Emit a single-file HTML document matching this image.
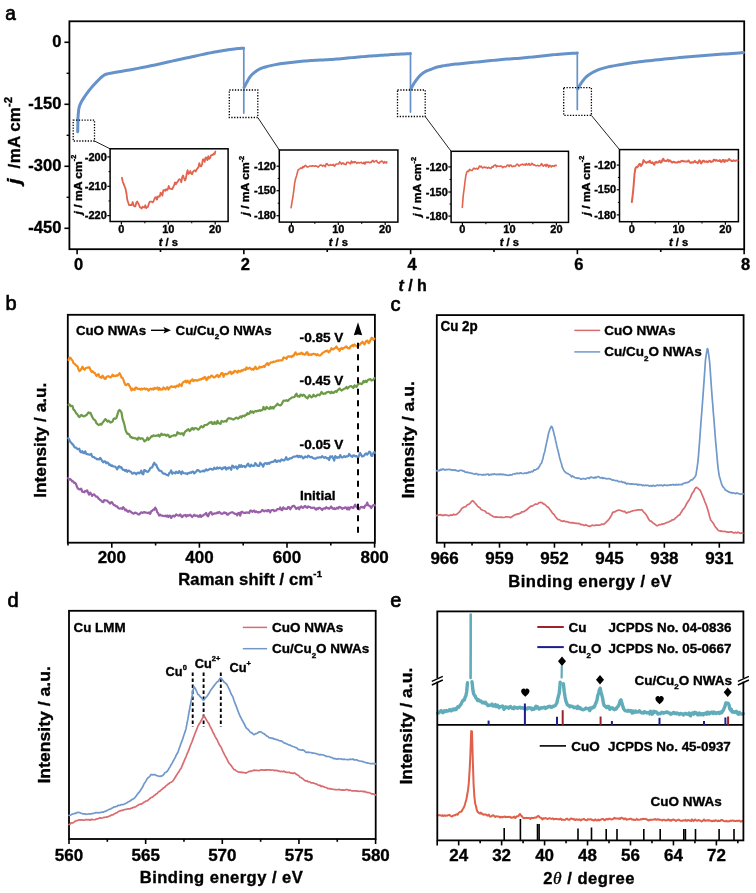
<!DOCTYPE html>
<html><head><meta charset="utf-8"><style>
html,body{margin:0;padding:0;background:#fff;}
svg{display:block;filter:blur(0.35px);}
text{font-family:'Liberation Sans', sans-serif;stroke:#000;stroke-width:0.35px;}
</style></head><body>
<svg width="756" height="893" viewBox="0 0 756 893">
<rect width="756" height="893" fill="#fff"/>
<text transform="translate(5.2 19.7) scale(1.0000 1.0500)" font-size="19" font-weight="normal" style="stroke-width:0.7px" fill="#000">a</text>
<rect x="69.4" y="21.3" width="674.8" height="227.9" fill="none" stroke="#000" stroke-width="1.8"/>
<line x1="64.4" y1="42.3" x2="69.4" y2="42.3" stroke="#000" stroke-width="1.6" stroke-linecap="butt"/>
<text transform="translate(61.4 46.8)" font-size="16.5" font-weight="bold" text-anchor="end" fill="#000">0</text>
<line x1="64.4" y1="104.3" x2="69.4" y2="104.3" stroke="#000" stroke-width="1.6" stroke-linecap="butt"/>
<text transform="translate(61.4 108.8)" font-size="16.5" font-weight="bold" text-anchor="end" fill="#000">-150</text>
<line x1="64.4" y1="166.3" x2="69.4" y2="166.3" stroke="#000" stroke-width="1.6" stroke-linecap="butt"/>
<text transform="translate(61.4 170.8)" font-size="16.5" font-weight="bold" text-anchor="end" fill="#000">-300</text>
<line x1="64.4" y1="228.3" x2="69.4" y2="228.3" stroke="#000" stroke-width="1.6" stroke-linecap="butt"/>
<text transform="translate(61.4 232.8)" font-size="16.5" font-weight="bold" text-anchor="end" fill="#000">-450</text>
<line x1="66.6" y1="73.3" x2="69.4" y2="73.3" stroke="#000" stroke-width="1.4" stroke-linecap="butt"/>
<line x1="66.6" y1="135.3" x2="69.4" y2="135.3" stroke="#000" stroke-width="1.4" stroke-linecap="butt"/>
<line x1="66.6" y1="197.3" x2="69.4" y2="197.3" stroke="#000" stroke-width="1.4" stroke-linecap="butt"/>
<line x1="77.1" y1="249.2" x2="77.1" y2="254.2" stroke="#000" stroke-width="1.6" stroke-linecap="butt"/>
<line x1="160.48" y1="249.2" x2="160.48" y2="252" stroke="#000" stroke-width="1.6" stroke-linecap="butt"/>
<line x1="243.86" y1="249.2" x2="243.86" y2="254.2" stroke="#000" stroke-width="1.6" stroke-linecap="butt"/>
<line x1="327.24" y1="249.2" x2="327.24" y2="252" stroke="#000" stroke-width="1.6" stroke-linecap="butt"/>
<line x1="410.62" y1="249.2" x2="410.62" y2="254.2" stroke="#000" stroke-width="1.6" stroke-linecap="butt"/>
<line x1="494" y1="249.2" x2="494" y2="252" stroke="#000" stroke-width="1.6" stroke-linecap="butt"/>
<line x1="577.38" y1="249.2" x2="577.38" y2="254.2" stroke="#000" stroke-width="1.6" stroke-linecap="butt"/>
<line x1="660.76" y1="249.2" x2="660.76" y2="252" stroke="#000" stroke-width="1.6" stroke-linecap="butt"/>
<line x1="744.14" y1="249.2" x2="744.14" y2="254.2" stroke="#000" stroke-width="1.6" stroke-linecap="butt"/>
<text transform="translate(78.5 269.6) scale(1.0000 1.0400)" font-size="16.5" font-weight="bold" text-anchor="middle" fill="#000">0</text>
<text transform="translate(245.26 269.6) scale(1.0000 1.0400)" font-size="16.5" font-weight="bold" text-anchor="middle" fill="#000">2</text>
<text transform="translate(412.02 269.6) scale(1.0000 1.0400)" font-size="16.5" font-weight="bold" text-anchor="middle" fill="#000">4</text>
<text transform="translate(578.78 269.6) scale(1.0000 1.0400)" font-size="16.5" font-weight="bold" text-anchor="middle" fill="#000">6</text>
<text transform="translate(745.54 269.6) scale(1.0000 1.0400)" font-size="16.5" font-weight="bold" text-anchor="middle" fill="#000">8</text>
<text transform="translate(412.6 290.6)" font-size="16" font-weight="bold" text-anchor="middle" fill="#000"><tspan font-style="italic">t</tspan> / h</text>
<text transform="translate(20.4 168.6) rotate(-90) scale(1.0400 1.0000)" font-size="16.4" font-weight="bold" fill="#000">/<tspan font-size="2"> </tspan>mA cm<tspan font-size="11" dy="-8.5">-2</tspan></text>
<text transform="translate(20.4 184.3) rotate(-90) scale(1.1500 1.0000)" font-size="18.5" font-weight="bold" font-style="italic" fill="#000">j</text>
<polyline points="77.7,131.7 77.72,130.6 77.75,129.04 77.79,127.21 77.83,125.3 77.86,123.5 77.9,122 77.92,120.86 77.92,119.94 77.92,119.12 77.94,118.31 78,117.37 78.1,116.2 78.22,114.75 78.35,113.11 78.51,111.35 78.74,109.54 79.06,107.77 79.5,106.1 80.08,104.54 80.76,103.04 81.54,101.56 82.4,100.1 83.33,98.62 84.3,97.1 85.35,95.52 86.49,93.9 87.7,92.27 88.94,90.65 90.18,89.08 91.4,87.6 92.62,86.17 93.89,84.77 95.15,83.42 96.38,82.14 97.54,80.96 98.6,79.9 99.52,78.97 100.33,78.16 101.07,77.45 101.79,76.81 102.52,76.24 103.3,75.7 104,75.24 104.55,74.88 105.12,74.58 105.86,74.29 106.93,73.98 108.5,73.6 110.58,73.17 113.05,72.73 115.86,72.27 118.94,71.77 122.24,71.21 125.7,70.6 129.43,69.91 133.48,69.16 137.76,68.36 142.14,67.52 146.53,66.66 150.8,65.8 155.06,64.91 159.4,63.97 163.74,63.01 168,62.06 172.08,61.14 175.9,60.3 179.46,59.52 182.84,58.79 186.04,58.09 189.08,57.43 191.96,56.8 194.7,56.2 197.22,55.64 199.51,55.13 201.65,54.64 203.71,54.19 205.76,53.74 207.9,53.3 210.1,52.87 212.3,52.45 214.49,52.04 216.69,51.65 218.89,51.27 221.1,50.9 223.36,50.53 225.68,50.16 228,49.79 230.27,49.46 232.42,49.15 234.4,48.9 236.28,48.7 238.11,48.54 239.83,48.43 241.37,48.33 242.65,48.26 243.6,48.2" fill="none" stroke="#6592c9" stroke-width="3.0" stroke-linejoin="round" stroke-linecap="round"/>
<polyline points="244.2,87.3 244.53,86.66 244.97,85.77 245.51,84.73 246.09,83.59 246.7,82.46 247.3,81.4 247.87,80.4 248.44,79.38 249.03,78.36 249.67,77.35 250.38,76.36 251.2,75.4 252.14,74.45 253.2,73.49 254.32,72.56 255.49,71.66 256.66,70.84 257.8,70.1 258.84,69.48 259.79,68.96 260.74,68.51 261.78,68.09 263.01,67.66 264.5,67.2 266.32,66.69 268.42,66.16 270.69,65.63 273.06,65.11 275.42,64.63 277.7,64.2 279.9,63.84 282.1,63.53 284.3,63.25 286.5,63 288.7,62.75 290.9,62.5 293.1,62.24 295.3,61.99 297.49,61.75 299.69,61.52 301.89,61.3 304.1,61.1 306.32,60.92 308.55,60.75 310.79,60.6 313.01,60.46 315.22,60.33 317.4,60.2 319.53,60.09 321.63,60 323.71,59.91 325.78,59.83 327.87,59.73 330,59.6 332.16,59.45 334.35,59.28 336.56,59.09 338.77,58.9 340.99,58.7 343.2,58.5 345.41,58.29 347.63,58.07 349.85,57.85 352.07,57.63 354.29,57.41 356.5,57.2 358.71,57 360.91,56.81 363.11,56.62 365.3,56.44 367.5,56.27 369.7,56.1 371.9,55.94 374.1,55.79 376.3,55.64 378.5,55.49 380.7,55.35 382.9,55.2 385.09,55.05 387.26,54.89 389.43,54.74 391.62,54.59 393.84,54.44 396.1,54.3 398.59,54.16 401.31,54.03 404.08,53.89 406.65,53.77 408.83,53.67 410.4,53.6" fill="none" stroke="#6592c9" stroke-width="3.0" stroke-linejoin="round" stroke-linecap="round"/>
<polyline points="410.8,88.9 411.21,88.18 411.76,87.19 412.43,86.01 413.16,84.74 413.93,83.48 414.7,82.3 415.49,81.17 416.33,80 417.21,78.84 418.11,77.71 419.01,76.65 419.9,75.7 420.76,74.87 421.62,74.12 422.47,73.45 423.35,72.83 424.25,72.26 425.2,71.7 426.2,71.18 427.24,70.72 428.32,70.29 429.41,69.89 430.51,69.5 431.6,69.1 432.61,68.7 433.54,68.31 434.47,67.92 435.5,67.55 436.71,67.17 438.2,66.8 440.03,66.42 442.14,66.03 444.44,65.64 446.83,65.26 449.21,64.91 451.5,64.6 453.71,64.33 455.91,64.1 458.11,63.9 460.3,63.71 462.5,63.51 464.7,63.3 466.9,63.07 469.1,62.84 471.3,62.6 473.5,62.36 475.7,62.13 477.9,61.9 480.1,61.68 482.3,61.46 484.49,61.24 486.69,61.03 488.89,60.82 491.1,60.6 493.28,60.38 495.44,60.16 497.6,59.94 499.79,59.72 502.05,59.51 504.4,59.3 506.89,59.11 509.52,58.93 512.21,58.75 514.89,58.57 517.51,58.39 520,58.2 522.34,58 524.57,57.79 526.74,57.57 528.88,57.35 531.02,57.12 533.2,56.9 535.41,56.67 537.63,56.44 539.85,56.2 542.07,55.96 544.29,55.73 546.5,55.5 548.65,55.28 550.74,55.06 552.83,54.84 554.98,54.62 557.25,54.41 559.7,54.2 562.58,53.98 565.89,53.75 569.33,53.52 572.57,53.31 575.33,53.13 577.3,53" fill="none" stroke="#6592c9" stroke-width="3.0" stroke-linejoin="round" stroke-linecap="round"/>
<polyline points="577.8,88.9 578.1,88.35 578.49,87.61 578.97,86.72 579.52,85.74 580.13,84.71 580.8,83.7 581.53,82.65 582.34,81.5 583.22,80.31 584.14,79.13 585.11,78.01 586.1,77 587.14,76.09 588.23,75.25 589.37,74.47 590.52,73.74 591.67,73.05 592.8,72.4 593.86,71.81 594.86,71.28 595.86,70.79 596.91,70.33 598.07,69.88 599.4,69.4 600.94,68.9 602.66,68.38 604.49,67.87 606.36,67.37 608.22,66.91 610,66.5 611.66,66.15 613.25,65.86 614.82,65.61 616.43,65.36 618.14,65.1 620,64.8 621.99,64.46 624.06,64.1 626.22,63.73 628.5,63.35 630.92,62.97 633.5,62.6 636.29,62.23 639.29,61.86 642.43,61.48 645.64,61.11 648.85,60.75 652,60.4 655.1,60.06 658.2,59.74 661.31,59.42 664.41,59.11 667.51,58.81 670.6,58.5 673.68,58.19 676.74,57.88 679.8,57.58 682.86,57.27 685.92,56.98 689,56.7 692.09,56.43 695.19,56.17 698.29,55.92 701.4,55.67 704.5,55.43 707.6,55.2 710.7,54.97 713.82,54.75 716.93,54.54 720.03,54.33 723.09,54.11 726.1,53.9 729.25,53.67 732.6,53.42 735.91,53.17 738.96,52.94 741.53,52.74 743.4,52.6" fill="none" stroke="#6592c9" stroke-width="3.0" stroke-linejoin="round" stroke-linecap="round"/>
<line x1="243.8" y1="48.2" x2="243.8" y2="113.1" stroke="#6592c9" stroke-width="1.7" stroke-linecap="round"/>
<line x1="410.5" y1="53.6" x2="410.5" y2="112.1" stroke="#6592c9" stroke-width="1.7" stroke-linecap="round"/>
<line x1="577.3" y1="53" x2="577.3" y2="109.4" stroke="#6592c9" stroke-width="1.7" stroke-linecap="round"/>
<rect x="73.2" y="120.2" width="21.3" height="20.8" fill="none" stroke="#000" stroke-width="1.3" stroke-dasharray="1.3 1.5"/>
<line x1="94.5" y1="141" x2="110.1" y2="148.8" stroke="#222" stroke-width="1.0" stroke-linecap="butt"/>
<rect x="229.3" y="90" width="28.5" height="27.5" fill="none" stroke="#000" stroke-width="1.3" stroke-dasharray="1.3 1.5"/>
<line x1="257.8" y1="117.5" x2="279.3" y2="150" stroke="#222" stroke-width="1.0" stroke-linecap="butt"/>
<rect x="397.5" y="90" width="27.7" height="26.5" fill="none" stroke="#000" stroke-width="1.3" stroke-dasharray="1.3 1.5"/>
<line x1="425.2" y1="116.5" x2="451.1" y2="151.3" stroke="#222" stroke-width="1.0" stroke-linecap="butt"/>
<rect x="563.7" y="87.6" width="27.7" height="27.8" fill="none" stroke="#000" stroke-width="1.3" stroke-dasharray="1.3 1.5"/>
<line x1="591.4" y1="115.4" x2="619.5" y2="149.6" stroke="#222" stroke-width="1.0" stroke-linecap="butt"/>
<rect x="110.1" y="148.8" width="118" height="72.7" fill="#fff"/>
<rect x="110.1" y="148.8" width="118" height="72.7" fill="none" stroke="#000" stroke-width="1.5"/>
<line x1="121.4" y1="221.5" x2="121.4" y2="224.5" stroke="#000" stroke-width="1.2" stroke-linecap="butt"/>
<text transform="translate(121.4 232.6)" font-size="11" font-weight="bold" text-anchor="middle" fill="#000">0</text>
<line x1="168.3" y1="221.5" x2="168.3" y2="224.5" stroke="#000" stroke-width="1.2" stroke-linecap="butt"/>
<text transform="translate(168.3 232.6)" font-size="11" font-weight="bold" text-anchor="middle" fill="#000">10</text>
<line x1="215.2" y1="221.5" x2="215.2" y2="224.5" stroke="#000" stroke-width="1.2" stroke-linecap="butt"/>
<text transform="translate(215.2 232.6)" font-size="11" font-weight="bold" text-anchor="middle" fill="#000">20</text>
<line x1="144.85" y1="221.5" x2="144.85" y2="223.3" stroke="#000" stroke-width="1.0" stroke-linecap="butt"/>
<line x1="191.75" y1="221.5" x2="191.75" y2="223.3" stroke="#000" stroke-width="1.0" stroke-linecap="butt"/>
<line x1="107.3" y1="156.9" x2="110.1" y2="156.9" stroke="#000" stroke-width="1.2" stroke-linecap="butt"/>
<text transform="translate(106.8 160.5) scale(1.0000 0.9700)" font-size="11" font-weight="bold" text-anchor="end" fill="#000">-200</text>
<line x1="107.3" y1="186.3" x2="110.1" y2="186.3" stroke="#000" stroke-width="1.2" stroke-linecap="butt"/>
<text transform="translate(106.8 189.9) scale(1.0000 0.9700)" font-size="11" font-weight="bold" text-anchor="end" fill="#000">-210</text>
<line x1="107.3" y1="215.6" x2="110.1" y2="215.6" stroke="#000" stroke-width="1.2" stroke-linecap="butt"/>
<text transform="translate(106.8 219.2) scale(1.0000 0.9700)" font-size="11" font-weight="bold" text-anchor="end" fill="#000">-220</text>
<line x1="108.5" y1="171.6" x2="110.1" y2="171.6" stroke="#000" stroke-width="1.0" stroke-linecap="butt"/>
<line x1="108.5" y1="200.95" x2="110.1" y2="200.95" stroke="#000" stroke-width="1.0" stroke-linecap="butt"/>
<text transform="translate(168.3 245.6)" font-size="11.2" font-weight="bold" text-anchor="middle" fill="#000"><tspan font-style="italic">t</tspan> / s</text>
<text transform="translate(81.5 184.6) rotate(-90) scale(1.1200 1.0000)" font-size="10.8" font-weight="bold" text-anchor="middle" fill="#000"><tspan font-style="italic">j</tspan> / mA cm<tspan font-size="6.5" dy="-5.5">-2</tspan></text>
<polyline points="121.9,177.77 122.8,181.8 123.7,183.92 124.6,186.38 125.5,188.56 126.4,193.23 127.3,199.86 128.2,202.5 129.1,205.17 130,204.92 130.9,205.12 131.8,205.1 132.7,202.01 133.6,205.34 134.5,206.38 135.4,206.29 136.3,202.71 137.2,201.49 138.1,203.17 139,204.91 139.9,207.29 140.8,207.67 141.7,208.49 142.6,206.64 143.5,207.23 144.4,207.51 145.3,205.28 146.2,208.17 147.1,207.05 148,206.86 148.9,203.55 149.8,201.65 150.7,201.62 151.6,201.62 152.5,202.37 153.4,201.5 154.3,199.41 155.2,197.43 156.1,197.16 157,199.65 157.9,196.5 158.8,196.34 159.7,196.53 160.6,192.64 161.5,193.37 162.4,195.68 163.3,190.05 164.2,190.22 165.1,190.88 166,189.09 166.9,190.21 167.8,189.36 168.7,185.99 169.6,188.43 170.5,188.91 171.4,188.7 172.3,189.13 173.2,187.03 174.1,185.41 175,182.31 175.9,184.17 176.8,182.67 177.7,181.66 178.6,179.81 179.5,179.26 180.4,179.59 181.3,182.34 182.2,177.15 183.1,175.5 184,178.05 184.9,180.42 185.8,178.95 186.7,173.5 187.6,170.23 188.5,173.99 189.4,173.08 190.3,171.01 191.2,173.56 192.1,174.23 193,171.91 193.9,170.71 194.8,170.29 195.7,171.58 196.6,169.82 197.5,168.29 198.4,167.5 199.3,163.14 200.2,165.95 201.1,166.32 202,164.62 202.9,159.33 203.8,159.34 204.7,161.87 205.6,157.45 206.5,157.86 207.4,160.09 208.3,156.06 209.2,158.86 210.1,158.01 211,155.4 211.9,155.01 212.8,155.06 213.7,153.57 214.6,154.22 215.4,151.5" fill="none" stroke="#e2644e" stroke-width="1.8" stroke-linejoin="round" stroke-linecap="round"/>
<rect x="279.3" y="150" width="118.6" height="72.1" fill="#fff"/>
<rect x="279.3" y="150" width="118.6" height="72.1" fill="none" stroke="#000" stroke-width="1.5"/>
<line x1="291.4" y1="222.1" x2="291.4" y2="225.1" stroke="#000" stroke-width="1.2" stroke-linecap="butt"/>
<text transform="translate(291.4 232.6)" font-size="11" font-weight="bold" text-anchor="middle" fill="#000">0</text>
<line x1="338.3" y1="222.1" x2="338.3" y2="225.1" stroke="#000" stroke-width="1.2" stroke-linecap="butt"/>
<text transform="translate(338.3 232.6)" font-size="11" font-weight="bold" text-anchor="middle" fill="#000">10</text>
<line x1="385.2" y1="222.1" x2="385.2" y2="225.1" stroke="#000" stroke-width="1.2" stroke-linecap="butt"/>
<text transform="translate(385.2 232.6)" font-size="11" font-weight="bold" text-anchor="middle" fill="#000">20</text>
<line x1="314.85" y1="222.1" x2="314.85" y2="223.9" stroke="#000" stroke-width="1.0" stroke-linecap="butt"/>
<line x1="361.75" y1="222.1" x2="361.75" y2="223.9" stroke="#000" stroke-width="1.0" stroke-linecap="butt"/>
<line x1="276.5" y1="166.2" x2="279.3" y2="166.2" stroke="#000" stroke-width="1.2" stroke-linecap="butt"/>
<text transform="translate(276 169.8) scale(1.0000 0.9700)" font-size="11" font-weight="bold" text-anchor="end" fill="#000">-120</text>
<line x1="276.5" y1="190.7" x2="279.3" y2="190.7" stroke="#000" stroke-width="1.2" stroke-linecap="butt"/>
<text transform="translate(276 194.3) scale(1.0000 0.9700)" font-size="11" font-weight="bold" text-anchor="end" fill="#000">-150</text>
<line x1="276.5" y1="215.7" x2="279.3" y2="215.7" stroke="#000" stroke-width="1.2" stroke-linecap="butt"/>
<text transform="translate(276 219.3) scale(1.0000 0.9700)" font-size="11" font-weight="bold" text-anchor="end" fill="#000">-180</text>
<line x1="277.7" y1="178.45" x2="279.3" y2="178.45" stroke="#000" stroke-width="1.0" stroke-linecap="butt"/>
<line x1="277.7" y1="203.2" x2="279.3" y2="203.2" stroke="#000" stroke-width="1.0" stroke-linecap="butt"/>
<text transform="translate(338.3 245.6)" font-size="11.2" font-weight="bold" text-anchor="middle" fill="#000"><tspan font-style="italic">t</tspan> / s</text>
<text transform="translate(249.3 185.7) rotate(-90) scale(1.1200 1.0000)" font-size="10.8" font-weight="bold" text-anchor="middle" fill="#000"><tspan font-style="italic">j</tspan> / mA cm<tspan font-size="6.5" dy="-5.5">-2</tspan></text>
<polyline points="291.1,207.8 292,201.82 292.9,196.99 293.8,190.47 294.7,182.9 295.6,178.76 296.5,176.04 297.4,172.33 298.3,169.59 299.2,169.16 300.1,168.6 301,167.8 301.9,168.49 302.8,166.68 303.7,167.41 304.6,165.84 305.5,165.32 306.4,166.36 307.3,167 308.2,166.86 309.1,166.36 310,166.05 310.9,165.99 311.8,166.29 312.7,165.82 313.6,165.94 314.5,166.24 315.4,165.85 316.3,166.23 317.2,166.23 318.1,167.23 319,166.3 319.9,165.26 320.8,165.07 321.7,165.32 322.6,166.08 323.5,165.34 324.4,165.51 325.3,166.74 326.2,163.77 327.1,163.64 328,164.99 328.9,165.4 329.8,165.25 330.7,164.64 331.6,165.19 332.5,165.12 333.4,164.33 334.3,166.23 335.2,165.35 336.1,164.02 337,164.02 337.9,163.94 338.8,163.92 339.7,161.86 340.6,162.73 341.5,164.34 342.4,163 343.3,163.15 344.2,164.1 345.1,164.2 346,164.56 346.9,162.24 347.8,162.33 348.7,162.61 349.6,163.26 350.5,163.79 351.4,161.02 352.3,162.8 353.2,161.82 354.1,162.7 355,161.59 355.9,162.22 356.8,163.38 357.7,162.6 358.6,162.47 359.5,162.98 360.4,162.62 361.3,162.24 362.2,163.37 363.1,163.41 364,162.25 364.9,164.15 365.8,162 366.7,162.51 367.6,162.14 368.5,162.11 369.4,162.62 370.3,162.39 371.2,162.56 372.1,161.03 373,160.45 373.9,162.03 374.8,161.39 375.7,160.91 376.6,160.55 377.5,162.47 378.4,162.78 379.3,163.18 380.2,161.55 381.1,161.6 382,160.98 382.9,162.09 383.8,163.2 384.7,161.64 385.6,162.72 386.5,162.95 386.75,161.81" fill="none" stroke="#e2644e" stroke-width="1.6" stroke-linejoin="round" stroke-linecap="round"/>
<rect x="451.1" y="151.3" width="117.4" height="71.1" fill="#fff"/>
<rect x="451.1" y="151.3" width="117.4" height="71.1" fill="none" stroke="#000" stroke-width="1.5"/>
<line x1="462.4" y1="222.4" x2="462.4" y2="225.4" stroke="#000" stroke-width="1.2" stroke-linecap="butt"/>
<text transform="translate(462.4 232.6)" font-size="11" font-weight="bold" text-anchor="middle" fill="#000">0</text>
<line x1="509.4" y1="222.4" x2="509.4" y2="225.4" stroke="#000" stroke-width="1.2" stroke-linecap="butt"/>
<text transform="translate(509.4 232.6)" font-size="11" font-weight="bold" text-anchor="middle" fill="#000">10</text>
<line x1="556.4" y1="222.4" x2="556.4" y2="225.4" stroke="#000" stroke-width="1.2" stroke-linecap="butt"/>
<text transform="translate(556.4 232.6)" font-size="11" font-weight="bold" text-anchor="middle" fill="#000">20</text>
<line x1="485.9" y1="222.4" x2="485.9" y2="224.2" stroke="#000" stroke-width="1.0" stroke-linecap="butt"/>
<line x1="532.9" y1="222.4" x2="532.9" y2="224.2" stroke="#000" stroke-width="1.0" stroke-linecap="butt"/>
<line x1="448.3" y1="166.9" x2="451.1" y2="166.9" stroke="#000" stroke-width="1.2" stroke-linecap="butt"/>
<text transform="translate(447.8 170.5) scale(1.0000 0.9700)" font-size="11" font-weight="bold" text-anchor="end" fill="#000">-120</text>
<line x1="448.3" y1="192" x2="451.1" y2="192" stroke="#000" stroke-width="1.2" stroke-linecap="butt"/>
<text transform="translate(447.8 195.6) scale(1.0000 0.9700)" font-size="11" font-weight="bold" text-anchor="end" fill="#000">-150</text>
<line x1="448.3" y1="216.1" x2="451.1" y2="216.1" stroke="#000" stroke-width="1.2" stroke-linecap="butt"/>
<text transform="translate(447.8 219.7) scale(1.0000 0.9700)" font-size="11" font-weight="bold" text-anchor="end" fill="#000">-180</text>
<line x1="449.5" y1="179.45" x2="451.1" y2="179.45" stroke="#000" stroke-width="1.0" stroke-linecap="butt"/>
<line x1="449.5" y1="204.05" x2="451.1" y2="204.05" stroke="#000" stroke-width="1.0" stroke-linecap="butt"/>
<text transform="translate(509.4 245.6)" font-size="11.2" font-weight="bold" text-anchor="middle" fill="#000"><tspan font-style="italic">t</tspan> / s</text>
<text transform="translate(421.1 186.8) rotate(-90) scale(1.1200 1.0000)" font-size="10.8" font-weight="bold" text-anchor="middle" fill="#000"><tspan font-style="italic">j</tspan> / mA cm<tspan font-size="6.5" dy="-5.5">-2</tspan></text>
<polyline points="462.3,207.37 463.2,195.85 464.1,189.04 465,181.76 465.9,175.22 466.8,172.11 467.7,171.11 468.6,171.49 469.5,169.35 470.4,169.93 471.3,170.52 472.2,170.39 473.1,168.98 474,167.98 474.9,169 475.8,168.65 476.7,168.29 477.6,169.15 478.5,168.11 479.4,166.03 480.3,166.82 481.2,166.12 482.1,167.64 483,167.88 483.9,166.96 484.8,167.09 485.7,167.8 486.6,167.39 487.5,168.06 488.4,167.29 489.3,167.7 490.2,168.27 491.1,168.43 492,166.71 492.9,167.23 493.8,165.53 494.7,165.36 495.6,164.87 496.5,166.88 497.4,165.91 498.3,166.18 499.2,166.32 500.1,166.36 501,165.93 501.9,166.36 502.8,167.7 503.7,166.75 504.6,166.62 505.5,167.05 506.4,166.23 507.3,165.08 508.2,165.29 509.1,166.65 510,165 510.9,165.03 511.8,166.47 512.7,166.69 513.6,166.01 514.5,166.36 515.4,166.06 516.3,164.84 517.2,164.16 518.1,164.72 519,166.09 519.9,165.35 520.8,164.66 521.7,164.63 522.6,164.05 523.5,164.88 524.4,164.41 525.3,165.25 526.2,163.57 527.1,164.83 528,164.78 528.9,163.51 529.8,165.14 530.7,165.05 531.6,163.3 532.5,163.77 533.4,164.97 534.3,164.7 535.2,165.41 536.1,165.69 537,165.61 537.9,165.33 538.8,165.99 539.7,165.76 540.6,165.43 541.5,163.49 542.4,165.09 543.3,166.21 544.2,165.14 545.1,164.63 546,166.43 546.9,164.33 547.8,165.08 548.7,167.18 549.6,165.23 550.5,165.62 551.4,167 552.3,165.87 553.2,165.91 554.1,166.4 555,165.19 555.9,165.38 556.2,165.7" fill="none" stroke="#e2644e" stroke-width="1.6" stroke-linejoin="round" stroke-linecap="round"/>
<rect x="619.5" y="149.6" width="118.9" height="72.1" fill="#fff"/>
<rect x="619.5" y="149.6" width="118.9" height="72.1" fill="none" stroke="#000" stroke-width="1.5"/>
<line x1="631.8" y1="221.7" x2="631.8" y2="224.7" stroke="#000" stroke-width="1.2" stroke-linecap="butt"/>
<text transform="translate(631.8 232.6)" font-size="11" font-weight="bold" text-anchor="middle" fill="#000">0</text>
<line x1="678.6" y1="221.7" x2="678.6" y2="224.7" stroke="#000" stroke-width="1.2" stroke-linecap="butt"/>
<text transform="translate(678.6 232.6)" font-size="11" font-weight="bold" text-anchor="middle" fill="#000">10</text>
<line x1="725.4" y1="221.7" x2="725.4" y2="224.7" stroke="#000" stroke-width="1.2" stroke-linecap="butt"/>
<text transform="translate(725.4 232.6)" font-size="11" font-weight="bold" text-anchor="middle" fill="#000">20</text>
<line x1="655.2" y1="221.7" x2="655.2" y2="223.5" stroke="#000" stroke-width="1.0" stroke-linecap="butt"/>
<line x1="702" y1="221.7" x2="702" y2="223.5" stroke="#000" stroke-width="1.0" stroke-linecap="butt"/>
<line x1="616.7" y1="165.1" x2="619.5" y2="165.1" stroke="#000" stroke-width="1.2" stroke-linecap="butt"/>
<text transform="translate(616.2 168.7) scale(1.0000 0.9700)" font-size="11" font-weight="bold" text-anchor="end" fill="#000">-120</text>
<line x1="616.7" y1="189.8" x2="619.5" y2="189.8" stroke="#000" stroke-width="1.2" stroke-linecap="butt"/>
<text transform="translate(616.2 193.4) scale(1.0000 0.9700)" font-size="11" font-weight="bold" text-anchor="end" fill="#000">-150</text>
<line x1="616.7" y1="214.9" x2="619.5" y2="214.9" stroke="#000" stroke-width="1.2" stroke-linecap="butt"/>
<text transform="translate(616.2 218.5) scale(1.0000 0.9700)" font-size="11" font-weight="bold" text-anchor="end" fill="#000">-180</text>
<line x1="617.9" y1="177.45" x2="619.5" y2="177.45" stroke="#000" stroke-width="1.0" stroke-linecap="butt"/>
<line x1="617.9" y1="202.35" x2="619.5" y2="202.35" stroke="#000" stroke-width="1.0" stroke-linecap="butt"/>
<text transform="translate(678.6 245.6)" font-size="11.2" font-weight="bold" text-anchor="middle" fill="#000"><tspan font-style="italic">t</tspan> / s</text>
<text transform="translate(589.5 185.6) rotate(-90) scale(1.1200 1.0000)" font-size="10.8" font-weight="bold" text-anchor="middle" fill="#000"><tspan font-style="italic">j</tspan> / mA cm<tspan font-size="6.5" dy="-5.5">-2</tspan></text>
<polyline points="631.8,202.03 632.7,195.12 633.6,186.1 634.5,174.28 635.4,168.38 636.3,167.09 637.2,167.31 638.1,166.13 639,164.56 639.9,163.77 640.8,165.96 641.7,164.96 642.6,163.42 643.5,160.14 644.4,161.42 645.3,162 646.2,162.88 647.1,162.3 648,161.72 648.9,162.26 649.8,160.68 650.7,162.6 651.6,163.09 652.5,162.25 653.4,163.71 654.3,164.74 655.2,162.29 656.1,161.85 657,162.63 657.9,162.54 658.8,161.72 659.7,160.75 660.6,162.69 661.5,162.32 662.4,159.85 663.3,158.75 664.2,160.82 665.1,160.83 666,161.15 666.9,160.63 667.8,159.67 668.7,161.33 669.6,160.29 670.5,160.95 671.4,161.97 672.3,162.65 673.2,161.78 674.1,161.88 675,162.45 675.9,162.48 676.8,162.59 677.7,162.24 678.6,161.61 679.5,162.27 680.4,161.91 681.3,160.94 682.2,160.78 683.1,161.29 684,161.33 684.9,161.5 685.8,161.44 686.7,161.59 687.6,161.45 688.5,160.57 689.4,161.72 690.3,162.84 691.2,162.68 692.1,162.17 693,162.67 693.9,161.88 694.8,160.88 695.7,162.29 696.6,162.14 697.5,163.22 698.4,162.22 699.3,160.4 700.2,161.1 701.1,163.47 702,162.42 702.9,160.83 703.8,160.78 704.7,161.72 705.6,161.82 706.5,161.36 707.4,162.13 708.3,161.74 709.2,160.83 710.1,161.03 711,161.97 711.9,161.64 712.8,161.43 713.7,159.7 714.6,159.8 715.5,160.72 716.4,160.09 717.3,160.86 718.2,160.83 719.1,160.91 720,160.07 720.9,161.94 721.8,161.65 722.7,160.1 723.6,159.92 724.5,162 725.4,160.35 726.3,160.5 727.2,160.94 728.1,160.21 729,159.03 729.9,159.81 730.8,160.36 731.7,161.05 732.6,161.03 733.5,160.36 734.4,160.85 735.3,160.88 736.2,160.56 737.1,160.38 737.6,160.3" fill="none" stroke="#e2644e" stroke-width="2.0" stroke-linejoin="round" stroke-linecap="round"/>
<text transform="translate(5.5 310.1)" font-size="20" font-weight="normal" style="stroke-width:0.7px" fill="#000">b</text>
<rect x="67.8" y="314.8" width="307.1" height="227.9" fill="none" stroke="#000" stroke-width="1.8"/>
<line x1="68" y1="542.7" x2="68" y2="545.5" stroke="#000" stroke-width="1.6" stroke-linecap="butt"/>
<line x1="111.8" y1="542.7" x2="111.8" y2="547.7" stroke="#000" stroke-width="1.6" stroke-linecap="butt"/>
<line x1="155.6" y1="542.7" x2="155.6" y2="545.5" stroke="#000" stroke-width="1.6" stroke-linecap="butt"/>
<line x1="199.4" y1="542.7" x2="199.4" y2="547.7" stroke="#000" stroke-width="1.6" stroke-linecap="butt"/>
<line x1="243.2" y1="542.7" x2="243.2" y2="545.5" stroke="#000" stroke-width="1.6" stroke-linecap="butt"/>
<line x1="287" y1="542.7" x2="287" y2="547.7" stroke="#000" stroke-width="1.6" stroke-linecap="butt"/>
<line x1="330.8" y1="542.7" x2="330.8" y2="545.5" stroke="#000" stroke-width="1.6" stroke-linecap="butt"/>
<line x1="374.6" y1="542.7" x2="374.6" y2="547.7" stroke="#000" stroke-width="1.6" stroke-linecap="butt"/>
<text transform="translate(111.8 563.2) scale(1.0000 0.9700)" font-size="17" font-weight="bold" text-anchor="middle" fill="#000">200</text>
<text transform="translate(199.4 563.2) scale(1.0000 0.9700)" font-size="17" font-weight="bold" text-anchor="middle" fill="#000">400</text>
<text transform="translate(287 563.2) scale(1.0000 0.9700)" font-size="17" font-weight="bold" text-anchor="middle" fill="#000">600</text>
<text transform="translate(374.6 563.2) scale(1.0000 0.9700)" font-size="17" font-weight="bold" text-anchor="middle" fill="#000">800</text>
<text transform="translate(178.2 585.3) scale(1.0000 0.9700)" font-size="16.6" font-weight="bold" letter-spacing="0.15" fill="#000">Raman shift / cm<tspan font-size="9.5" dy="-8.5">-1</tspan></text>
<text transform="translate(45.7 440.2) rotate(-90) scale(1.0350 1.0000)" font-size="16.7" font-weight="bold" text-anchor="middle" fill="#000">Intensity / a.u.</text>
<text transform="translate(75.9 334.6)" font-size="13.3" font-weight="bold" fill="#000">CuO NWAs</text>
<line x1="151" y1="330.3" x2="166" y2="330.3" stroke="#000" stroke-width="1.4" stroke-linecap="butt"/>
<polygon points="171,330.3 163.5,327 165,330.3 163.5,333.6" fill="#000"/>
<text transform="translate(175.6 334.6)" font-size="13.3" font-weight="bold" fill="#000">Cu/Cu<tspan font-size="8" dy="4.5">2</tspan><tspan dy="-4.5">O NWAs</tspan></text>
<polyline points="68.2,477.97 69.2,479.64 70.2,479.16 71.2,479.85 72.2,481.46 73.2,481.26 74.2,482.83 75.2,482.77 76.2,484.6 77.2,487.32 78.2,488.82 79.2,489.32 80.2,489.44 81.2,488.61 82.2,491.66 83.2,491.84 84.2,492.31 85.2,490.98 86.2,491.34 87.2,490.37 88.2,492.91 89.2,494.57 90.2,492.57 91.2,494.02 92.2,495.92 93.2,494.52 94.2,494.3 95.2,495.62 96.2,496.71 97.2,496.54 98.2,498.06 99.2,499.16 100.2,500.02 101.2,500.63 102.2,501.83 103.2,502.18 104.2,500.07 105.2,500.37 106.2,500.47 107.2,500.63 108.2,501.93 109.2,502.7 110.2,503.55 111.2,502.19 112.2,502.43 113.2,504.3 114.2,505.13 115.2,505.56 116.2,506.36 117.2,506.38 118.2,508.02 119.2,508.61 120.2,508.5 121.2,508.24 122.2,508.95 123.2,507.13 124.2,508.37 125.2,510.35 126.2,509.65 127.2,511.06 128.2,511.83 129.2,510.61 130.2,511.42 131.2,511.98 132.2,512.94 133.2,513.59 134.2,513.27 135.2,512.53 136.2,513.08 137.2,513.52 138.2,514.44 139.2,514.42 140.2,513.38 141.2,512.28 142.2,512.85 143.2,512.67 144.2,512.03 145.2,512.7 146.2,512.52 147.2,512.8 148.2,513.24 149.2,512.33 150.2,513.87 151.2,511.27 152.2,510.79 153.2,509.58 154.2,509.77 155.2,507.61 156.2,509.08 157.2,512.04 158.2,513.44 159.2,515.62 160.2,514.69 161.2,515.34 162.2,515.58 163.2,515.99 164.2,516.05 165.2,515.68 166.2,516.5 167.2,515.52 168.2,517.01 169.2,515.55 170.2,515.9 171.2,517.97 172.2,516.24 173.2,515.56 174.2,516.6 175.2,515.78 176.2,514.48 177.2,515.09 178.2,515.63 179.2,515.73 180.2,514.34 181.2,516.32 182.2,517.15 183.2,515.62 184.2,515.39 185.2,514.88 186.2,516.47 187.2,515.14 188.2,515.82 189.2,515.25 190.2,514.74 191.2,516.03 192.2,517.02 193.2,515.88 194.2,514.74 195.2,515.87 196.2,515.48 197.2,515.48 198.2,516.68 199.2,516.65 200.2,514.89 201.2,516.94 202.2,515.64 203.2,515.57 204.2,514.38 205.2,514.38 206.2,512.87 207.2,515.57 208.2,516.25 209.2,513.56 210.2,512.33 211.2,512.03 212.2,514.56 213.2,513.84 214.2,513.58 215.2,513.38 216.2,513.38 217.2,512.43 218.2,513.07 219.2,511.96 220.2,512.75 221.2,513.57 222.2,513.85 223.2,513.24 224.2,512.36 225.2,513.15 226.2,512.89 227.2,514.63 228.2,514.55 229.2,513.45 230.2,512.81 231.2,512.48 232.2,512.18 233.2,512.65 234.2,513.46 235.2,513.89 236.2,513.94 237.2,515.34 238.2,513.11 239.2,512.79 240.2,515.6 241.2,512.02 242.2,511.68 243.2,512.71 244.2,512.85 245.2,513.01 246.2,512.41 247.2,512.7 248.2,512.53 249.2,513.03 250.2,510.67 251.2,510.67 252.2,511.77 253.2,511.01 254.2,510.59 255.2,512.1 256.2,511.37 257.2,512.09 258.2,512.55 259.2,512.1 260.2,512.06 261.2,511.43 262.2,509.87 263.2,510.62 264.2,511.42 265.2,510.53 266.2,510.5 267.2,511.33 268.2,509.94 269.2,510.73 270.2,512.28 271.2,510.27 272.2,510.01 273.2,509.84 274.2,511.23 275.2,510.51 276.2,510.54 277.2,509.11 278.2,509.1 279.2,509.22 280.2,507.42 281.2,509.78 282.2,510.21 283.2,507.4 284.2,508.77 285.2,508.65 286.2,508.8 287.2,508.79 288.2,506.88 289.2,507.36 290.2,509.29 291.2,507.78 292.2,506.55 293.2,505.96 294.2,505.87 295.2,507.27 296.2,508.96 297.2,508.1 298.2,507.39 299.2,509.25 300.2,507.36 301.2,506.35 302.2,507.5 303.2,507.97 304.2,506.55 305.2,505.94 306.2,507.33 307.2,507.83 308.2,506.39 309.2,506.98 310.2,507.08 311.2,507.98 312.2,507.82 313.2,507.71 314.2,507.52 315.2,508.83 316.2,509.67 317.2,508.17 318.2,508.79 319.2,507.73 320.2,508.04 321.2,509.01 322.2,510.02 323.2,508.53 324.2,508.25 325.2,508.66 326.2,507.2 327.2,508.13 328.2,508.03 329.2,508.85 330.2,507.83 331.2,506.51 332.2,508.08 333.2,508.89 334.2,508.14 335.2,509.17 336.2,508.48 337.2,507.71 338.2,508.57 339.2,506.92 340.2,507.02 341.2,507.86 342.2,508.82 343.2,508.07 344.2,508.1 345.2,507.26 346.2,507.77 347.2,509.3 348.2,507.44 349.2,509.48 350.2,507.55 351.2,507.1 352.2,507.39 353.2,508.17 354.2,506.22 355.2,504.57 356.2,506.77 357.2,507.77 358.2,507.59 359.2,509.35 360.2,507.63 361.2,506.78 362.2,507.36 363.2,506.96 364.2,507.92 365.2,505.51 366.2,505.28 367.2,502.56 368.2,505.5 369.2,505.7 370.2,506.46 371.2,507.97 372.2,506.24 373.2,505.2 374.2,504.8 374.9,505.3" fill="none" stroke="#9a5fa9" stroke-width="2.2" stroke-linejoin="round" stroke-linecap="round"/>
<polyline points="68.2,438.2 69.2,439.32 70.2,441.79 71.2,442.84 72.2,443.86 73.2,444.84 74.2,446.82 75.2,447.55 76.2,447.58 77.2,448.91 78.2,449.17 79.2,448.72 80.2,451.64 81.2,452.34 82.2,451.17 83.2,452.89 84.2,453.12 85.2,451.32 86.2,453.95 87.2,454.05 88.2,454.41 89.2,454.54 90.2,454.68 91.2,453.93 92.2,456.55 93.2,457.19 94.2,457.22 95.2,458.14 96.2,458.51 97.2,459.41 98.2,459.03 99.2,459.42 100.2,457.95 101.2,459.23 102.2,461.14 103.2,462.42 104.2,461.32 105.2,461.27 106.2,463.27 107.2,462.31 108.2,462.97 109.2,464.87 110.2,464.51 111.2,465.98 112.2,465.42 113.2,466.38 114.2,466.5 115.2,466.68 116.2,467.79 117.2,469.42 118.2,467.02 119.2,466.18 120.2,467.54 121.2,467.08 122.2,468.7 123.2,469.94 124.2,469.82 125.2,470.96 126.2,469.91 127.2,471.78 128.2,470.62 129.2,470.91 130.2,471.58 131.2,472.03 132.2,473.53 133.2,473.46 134.2,472.59 135.2,473.16 136.2,474.3 137.2,472.98 138.2,472.64 139.2,473.43 140.2,472.63 141.2,470.67 142.2,473.57 143.2,474.39 144.2,470.14 145.2,470.43 146.2,471.34 147.2,471.84 148.2,471.58 149.2,470.41 150.2,468.28 151.2,467.65 152.2,467.46 153.2,464.53 154.2,462.77 155.2,464.69 156.2,464.52 157.2,467.35 158.2,468.92 159.2,470.59 160.2,470.68 161.2,471.02 162.2,472.31 163.2,473.69 164.2,473.67 165.2,473.91 166.2,474.63 167.2,475.09 168.2,475.52 169.2,473.13 170.2,472.44 171.2,470.4 172.2,473.78 173.2,472.74 174.2,472.53 175.2,473.29 176.2,471.68 177.2,472.79 178.2,472.93 179.2,471.06 180.2,472.47 181.2,474.03 182.2,471.42 183.2,472.95 184.2,473.27 185.2,473.32 186.2,473.38 187.2,474.19 188.2,472.93 189.2,473.31 190.2,472.31 191.2,472.81 192.2,471.57 193.2,471.58 194.2,473.41 195.2,472.65 196.2,471.5 197.2,470.21 198.2,470.07 199.2,470.97 200.2,471.85 201.2,471.46 202.2,471.24 203.2,470.58 204.2,471.56 205.2,470.22 206.2,469.34 207.2,470.5 208.2,470.05 209.2,469.3 210.2,468.75 211.2,468.8 212.2,469.59 213.2,469.48 214.2,467.75 215.2,468.64 216.2,468.79 217.2,467.44 218.2,468.58 219.2,468.02 220.2,467.55 221.2,468.55 222.2,469.38 223.2,467.59 224.2,467.94 225.2,467.02 226.2,469.56 227.2,467.91 228.2,468.53 229.2,467.29 230.2,468.01 231.2,469.78 232.2,465.68 233.2,466.04 234.2,467.58 235.2,467.28 236.2,466.41 237.2,468.78 238.2,467.63 239.2,465.19 240.2,466.87 241.2,465.13 242.2,466.88 243.2,466.08 244.2,466.07 245.2,467.25 246.2,466.42 247.2,464.48 248.2,463.57 249.2,466.09 250.2,466.5 251.2,464.77 252.2,465.78 253.2,465.94 254.2,465.91 255.2,463.14 256.2,463.98 257.2,465.71 258.2,465.9 259.2,465.93 260.2,462.72 261.2,463.89 262.2,464.86 263.2,466.71 264.2,463.85 265.2,463.06 266.2,463.4 267.2,464.12 268.2,462.93 269.2,463.78 270.2,462.26 271.2,462.41 272.2,461.79 273.2,461.96 274.2,461.17 275.2,459.82 276.2,461.86 277.2,461.79 278.2,460.5 279.2,460.73 280.2,461.53 281.2,459.72 282.2,459.68 283.2,460.38 284.2,460.38 285.2,459.35 286.2,457.17 287.2,459.56 288.2,459.6 289.2,458.79 290.2,458.21 291.2,458.42 292.2,457.74 293.2,456.73 294.2,456.6 295.2,456.62 296.2,456.45 297.2,455.72 298.2,457.04 299.2,455.81 300.2,457.07 301.2,456.18 302.2,456.97 303.2,458.43 304.2,457.71 305.2,456.47 306.2,456.95 307.2,457.34 308.2,455.63 309.2,456.12 310.2,457.27 311.2,456.97 312.2,457.32 313.2,458.17 314.2,458.46 315.2,458.65 316.2,458.44 317.2,457.54 318.2,457.55 319.2,457.44 320.2,457.36 321.2,457.52 322.2,456.14 323.2,456.99 324.2,457.79 325.2,457.03 326.2,457.66 327.2,458.53 328.2,458.11 329.2,460.06 330.2,456.4 331.2,457.07 332.2,456.21 333.2,458.22 334.2,460.63 335.2,456.17 336.2,456.83 337.2,457.96 338.2,457.2 339.2,457.62 340.2,455.13 341.2,457.05 342.2,457.53 343.2,456.95 344.2,456.16 345.2,457.03 346.2,456.28 347.2,456.49 348.2,455.94 349.2,453.95 350.2,455.39 351.2,456.25 352.2,456.76 353.2,455.3 354.2,455.47 355.2,456.28 356.2,455.95 357.2,456.75 358.2,457.69 359.2,455.03 360.2,452.96 361.2,455.11 362.2,456.52 363.2,456.02 364.2,455.57 365.2,454.02 366.2,453.31 367.2,454.65 368.2,453.32 369.2,451.72 370.2,452.05 371.2,455.49 372.2,455.96 373.2,453.14 374.2,452.08 374.9,452.9" fill="none" stroke="#5c8fc6" stroke-width="2.2" stroke-linejoin="round" stroke-linecap="round"/>
<polyline points="68.5,404.92 69.5,404.3 70.5,406.16 71.5,405.76 72.5,406 73.5,409.6 74.5,410.26 75.5,412.05 76.5,413.57 77.5,414.56 78.5,416.42 79.5,417.02 80.5,415.72 81.5,414.99 82.5,415.76 83.5,416.35 84.5,416.2 85.5,415.5 86.5,414.98 87.5,413.71 88.5,412.29 89.5,413.09 90.5,412.8 91.5,415.21 92.5,417.5 93.5,419.09 94.5,419.8 95.5,420.86 96.5,423.22 97.5,424.03 98.5,425.05 99.5,424.76 100.5,423.97 101.5,424.49 102.5,422.68 103.5,421.57 104.5,420.21 105.5,419.07 106.5,420.31 107.5,421.63 108.5,420.72 109.5,421.34 110.5,422.65 111.5,422 112.5,421.74 113.5,419.02 114.5,418.28 115.5,418.66 116.5,417.65 117.5,414.42 118.5,410.97 119.5,409.9 120.5,411.08 121.5,412.36 122.5,418.7 123.5,421.62 124.5,424.95 125.5,429.87 126.5,432.33 127.5,433.88 128.5,433.72 129.5,435 130.5,437.1 131.5,437.17 132.5,438.06 133.5,437.79 134.5,438.41 135.5,438.22 136.5,438.66 137.5,439.78 138.5,437.55 139.5,438.02 140.5,438.87 141.5,438.33 142.5,438.43 143.5,439.69 144.5,441.33 145.5,440.56 146.5,439.84 147.5,437.53 148.5,439.8 149.5,438.78 150.5,437.64 151.5,436.16 152.5,436.39 153.5,435.34 154.5,435.69 155.5,436.03 156.5,435.6 157.5,435.73 158.5,434.77 159.5,436.59 160.5,435.4 161.5,433.63 162.5,434.83 163.5,434.85 164.5,434.46 165.5,435.03 166.5,435.89 167.5,434.74 168.5,435.28 169.5,437.14 170.5,436.99 171.5,435.98 172.5,435.78 173.5,435.41 174.5,435.16 175.5,435.7 176.5,434.94 177.5,432.24 178.5,433.5 179.5,433.23 180.5,434.18 181.5,433.26 182.5,433.32 183.5,435.27 184.5,432.65 185.5,431.27 186.5,430.74 187.5,429.48 188.5,429.22 189.5,431.07 190.5,430.42 191.5,428.47 192.5,427.98 193.5,429.66 194.5,428.59 195.5,428.07 196.5,428.42 197.5,429.18 198.5,429.63 199.5,428.51 200.5,426.92 201.5,426.22 202.5,427.32 203.5,427.06 204.5,425.08 205.5,425.03 206.5,424.92 207.5,424.44 208.5,423.64 209.5,422.47 210.5,422.74 211.5,421.85 212.5,423.94 213.5,424 214.5,421.92 215.5,423.61 216.5,423.79 217.5,420.77 218.5,423.2 219.5,423.26 220.5,423.91 221.5,420.99 222.5,421.37 223.5,421.65 224.5,421.2 225.5,420.89 226.5,421.52 227.5,419.19 228.5,418.38 229.5,418.12 230.5,418.66 231.5,418.69 232.5,419.39 233.5,419.42 234.5,418.96 235.5,417.95 236.5,417.54 237.5,418.55 238.5,418.43 239.5,417.35 240.5,416.33 241.5,417.57 242.5,415.76 243.5,415.83 244.5,416.33 245.5,414.75 246.5,414.92 247.5,413.04 248.5,414.02 249.5,413.56 250.5,411.2 251.5,412.42 252.5,411.48 253.5,412.81 254.5,411.46 255.5,411.08 256.5,411.46 257.5,410.81 258.5,410.96 259.5,410.17 260.5,410.81 261.5,410.3 262.5,409.98 263.5,406.95 264.5,409.39 265.5,409.33 266.5,406.94 267.5,407.84 268.5,408.53 269.5,408.93 270.5,406.8 271.5,408.25 272.5,407.1 273.5,408.56 274.5,406.59 275.5,406.13 276.5,405.01 277.5,403.55 278.5,405 279.5,405.16 280.5,405.29 281.5,404.45 282.5,402.47 283.5,400.55 284.5,400.75 285.5,400.66 286.5,400.12 287.5,400.94 288.5,400.47 289.5,399.11 290.5,398.63 291.5,397.78 292.5,397.31 293.5,397.25 294.5,396.92 295.5,394.89 296.5,393.67 297.5,396.3 298.5,396.14 299.5,396.75 300.5,394.58 301.5,395.02 302.5,395.91 303.5,394.74 304.5,395.25 305.5,396.84 306.5,397.7 307.5,398.42 308.5,396.37 309.5,395.15 310.5,396.66 311.5,397.45 312.5,396.63 313.5,394.71 314.5,395.95 315.5,396.4 316.5,395.93 317.5,394.62 318.5,394.77 319.5,395.25 320.5,393.88 321.5,391.95 322.5,393.34 323.5,393.95 324.5,393.3 325.5,393.72 326.5,392.36 327.5,392.09 328.5,391.79 329.5,392.29 330.5,393.3 331.5,391.64 332.5,392.96 333.5,392.97 334.5,391.84 335.5,391.15 336.5,392 337.5,390.34 338.5,389.56 339.5,388.48 340.5,389.43 341.5,390.57 342.5,389.89 343.5,389.32 344.5,388.49 345.5,388.44 346.5,386.85 347.5,388.47 348.5,387.71 349.5,386.37 350.5,386.28 351.5,386.13 352.5,387.43 353.5,387.88 354.5,385.35 355.5,386.42 356.5,386.84 357.5,385.13 358.5,383.49 359.5,383.59 360.5,383.54 361.5,384.06 362.5,383.27 363.5,381.01 364.5,382.16 365.5,380.78 366.5,382.07 367.5,380.43 368.5,379.77 369.5,379.34 370.5,379.14 371.5,380.54 372.5,380.29 373.5,379.46 374.4,378.2" fill="none" stroke="#6c9a47" stroke-width="2.2" stroke-linejoin="round" stroke-linecap="round"/>
<polyline points="68.5,360 69.5,357.67 70.5,357.77 71.5,359.47 72.5,360.44 73.5,363.1 74.5,363.79 75.5,364.79 76.5,365.87 77.5,366.19 78.5,369.48 79.5,371.06 80.5,370.21 81.5,368.73 82.5,366.71 83.5,368.69 84.5,369.76 85.5,368.36 86.5,367.77 87.5,367.63 88.5,367.35 89.5,367.38 90.5,369.91 91.5,371.77 92.5,371.12 93.5,372.65 94.5,372.68 95.5,374.21 96.5,375.92 97.5,375.21 98.5,374.09 99.5,376.95 100.5,377.19 101.5,377.92 102.5,375.63 103.5,376.97 104.5,378.72 105.5,379 106.5,376.81 107.5,376.46 108.5,376.16 109.5,377.05 110.5,377.41 111.5,376.46 112.5,374.71 113.5,376.16 114.5,375.65 115.5,376.07 116.5,375.25 117.5,375.59 118.5,374.74 119.5,373.27 120.5,374.74 121.5,377.59 122.5,377.88 123.5,380.03 124.5,383.08 125.5,385.01 126.5,385.08 127.5,383.83 128.5,384.02 129.5,386.21 130.5,387.59 131.5,390.43 132.5,388.65 133.5,389.57 134.5,389.96 135.5,387.6 136.5,387.68 137.5,388.98 138.5,388.76 139.5,388.95 140.5,389.67 141.5,388.62 142.5,389.36 143.5,388.7 144.5,388.37 145.5,389.39 146.5,388.65 147.5,389.05 148.5,390.54 149.5,389.44 150.5,388.71 151.5,389.44 152.5,388.65 153.5,389.61 154.5,387.8 155.5,388.78 156.5,388.26 157.5,387.51 158.5,389.75 159.5,388.02 160.5,389.52 161.5,389.24 162.5,389.53 163.5,387.39 164.5,388.54 165.5,389.41 166.5,387.9 167.5,387.26 168.5,389.61 169.5,388.21 170.5,386.78 171.5,386.28 172.5,386.97 173.5,386.92 174.5,386.43 175.5,387.55 176.5,385.81 177.5,385.59 178.5,386.49 179.5,384.18 180.5,385 181.5,386.13 182.5,383.06 183.5,381.94 184.5,381.78 185.5,380.73 186.5,382.35 187.5,380.62 188.5,381.88 189.5,383.36 190.5,380.57 191.5,380.58 192.5,379.29 193.5,381.12 194.5,380.37 195.5,380.11 196.5,380.37 197.5,380.74 198.5,379.86 199.5,379.7 200.5,379.09 201.5,379.33 202.5,378.13 203.5,378.67 204.5,376.99 205.5,377.5 206.5,380.07 207.5,378.93 208.5,376.85 209.5,377.66 210.5,376.8 211.5,375.55 212.5,376 213.5,377.51 214.5,377.47 215.5,376.7 216.5,375.55 217.5,374.94 218.5,377 219.5,376.56 220.5,374.8 221.5,373.05 222.5,373.11 223.5,376.76 224.5,374.34 225.5,373.9 226.5,374.28 227.5,373.77 228.5,373.28 229.5,371.95 230.5,371.63 231.5,374.09 232.5,372.43 233.5,372.88 234.5,370.75 235.5,371.02 236.5,371.83 237.5,372.58 238.5,370.61 239.5,371.35 240.5,371.55 241.5,370.25 242.5,370.85 243.5,369.78 244.5,369.25 245.5,369.85 246.5,367.38 247.5,368.78 248.5,368.63 249.5,367.72 250.5,368.38 251.5,369.68 252.5,368.8 253.5,369.83 254.5,367.91 255.5,366.72 256.5,369.09 257.5,368.65 258.5,368.49 259.5,366.69 260.5,367.35 261.5,367.08 262.5,366.97 263.5,366.21 264.5,366.82 265.5,365.15 266.5,363.94 267.5,363.05 268.5,365.09 269.5,363.86 270.5,362.64 271.5,362.32 272.5,362.48 273.5,361.51 274.5,361.83 275.5,361.49 276.5,361.1 277.5,360.39 278.5,360.86 279.5,360.37 280.5,360.41 281.5,360.38 282.5,360.17 283.5,357.45 284.5,357.83 285.5,357.79 286.5,358.85 287.5,356.77 288.5,356.37 289.5,356.62 290.5,356.28 291.5,357.09 292.5,355.73 293.5,356.16 294.5,353.88 295.5,352.3 296.5,354.63 297.5,354.46 298.5,353.81 299.5,353.6 300.5,353.95 301.5,352.58 302.5,354.19 303.5,353.63 304.5,354.7 305.5,354.47 306.5,352.34 307.5,352.43 308.5,355.07 309.5,354.8 310.5,354.26 311.5,354.9 312.5,354.28 313.5,353.74 314.5,354.12 315.5,354.17 316.5,355.29 317.5,354.15 318.5,355.2 319.5,355.54 320.5,355.18 321.5,354.28 322.5,352.93 323.5,352.38 324.5,351.87 325.5,350.97 326.5,351.15 327.5,350.58 328.5,352.31 329.5,351.77 330.5,350.22 331.5,348.25 332.5,349.28 333.5,349.31 334.5,348.3 335.5,347.78 336.5,346.51 337.5,348.62 338.5,348.75 339.5,350.86 340.5,349.06 341.5,347.88 342.5,349.16 343.5,348.25 344.5,347.65 345.5,346.95 346.5,346.35 347.5,348.07 348.5,348.1 349.5,348.42 350.5,346.5 351.5,345.97 352.5,345.03 353.5,346.29 354.5,344.46 355.5,345.33 356.5,346.29 357.5,346.57 358.5,344.24 359.5,345.18 360.5,343.8 361.5,342.75 362.5,341.79 363.5,343.55 364.5,344.44 365.5,342.06 366.5,340.75 367.5,340.69 368.5,343.15 369.5,342.3 370.5,339.96 371.5,337.89 372.5,338.17 373.5,339.94 374.4,338.7" fill="none" stroke="#f58d1c" stroke-width="2.2" stroke-linejoin="round" stroke-linecap="round"/>
<text transform="translate(299.6 342.4)" font-size="13.6" font-weight="bold" fill="#000">-0.85 V</text>
<text transform="translate(299.6 385.2)" font-size="13.6" font-weight="bold" fill="#000">-0.45 V</text>
<text transform="translate(299.6 448.8)" font-size="13.6" font-weight="bold" fill="#000">-0.05 V</text>
<text transform="translate(300 499.8)" font-size="13.6" font-weight="bold" fill="#000">Initial</text>
<line x1="358" y1="532.7" x2="358" y2="338" stroke="#000" stroke-width="2.0" stroke-linecap="butt" stroke-dasharray="6 5.5"/>
<polygon points="358,322.2 353.8,335.3 358,334.4 362.2,335.3" fill="#000"/>
<text transform="translate(390.5 310.5)" font-size="20" font-weight="normal" style="stroke-width:0.7px" fill="#000">c</text>
<rect x="436.8" y="315.1" width="306.8" height="227.6" fill="none" stroke="#000" stroke-width="1.8"/>
<line x1="444.55" y1="542.7" x2="444.55" y2="547.7" stroke="#000" stroke-width="1.6" stroke-linecap="butt"/>
<line x1="472.02" y1="542.7" x2="472.02" y2="545.5" stroke="#000" stroke-width="1.6" stroke-linecap="butt"/>
<line x1="499.5" y1="542.7" x2="499.5" y2="547.7" stroke="#000" stroke-width="1.6" stroke-linecap="butt"/>
<line x1="526.98" y1="542.7" x2="526.98" y2="545.5" stroke="#000" stroke-width="1.6" stroke-linecap="butt"/>
<line x1="554.45" y1="542.7" x2="554.45" y2="547.7" stroke="#000" stroke-width="1.6" stroke-linecap="butt"/>
<line x1="581.92" y1="542.7" x2="581.92" y2="545.5" stroke="#000" stroke-width="1.6" stroke-linecap="butt"/>
<line x1="609.4" y1="542.7" x2="609.4" y2="547.7" stroke="#000" stroke-width="1.6" stroke-linecap="butt"/>
<line x1="636.88" y1="542.7" x2="636.88" y2="545.5" stroke="#000" stroke-width="1.6" stroke-linecap="butt"/>
<line x1="664.35" y1="542.7" x2="664.35" y2="547.7" stroke="#000" stroke-width="1.6" stroke-linecap="butt"/>
<line x1="691.83" y1="542.7" x2="691.83" y2="545.5" stroke="#000" stroke-width="1.6" stroke-linecap="butt"/>
<line x1="719.3" y1="542.7" x2="719.3" y2="547.7" stroke="#000" stroke-width="1.6" stroke-linecap="butt"/>
<text transform="translate(444.55 564) scale(1.0000 0.9700)" font-size="17" font-weight="bold" text-anchor="middle" fill="#000">966</text>
<text transform="translate(499.5 564) scale(1.0000 0.9700)" font-size="17" font-weight="bold" text-anchor="middle" fill="#000">959</text>
<text transform="translate(554.45 564) scale(1.0000 0.9700)" font-size="17" font-weight="bold" text-anchor="middle" fill="#000">952</text>
<text transform="translate(609.4 564) scale(1.0000 0.9700)" font-size="17" font-weight="bold" text-anchor="middle" fill="#000">945</text>
<text transform="translate(664.35 564) scale(1.0000 0.9700)" font-size="17" font-weight="bold" text-anchor="middle" fill="#000">938</text>
<text transform="translate(719.3 564) scale(1.0000 0.9700)" font-size="17" font-weight="bold" text-anchor="middle" fill="#000">931</text>
<text transform="translate(508.3 586.6) scale(1.0000 0.9700)" font-size="16.6" font-weight="bold" letter-spacing="0.46" fill="#000">Binding energy / eV</text>
<text transform="translate(414.1 439.85) rotate(-90) scale(1.0550 1.0000)" font-size="16.7" font-weight="bold" text-anchor="middle" fill="#000">Intensity / a.u.</text>
<text transform="translate(440.5 331.3) scale(1.0000 1.0400)" font-size="13.4" font-weight="bold" fill="#000">Cu 2p</text>
<line x1="574.3" y1="330.4" x2="600.2" y2="330.4" stroke="#d96c70" stroke-width="1.5" stroke-linecap="butt"/>
<line x1="574.3" y1="351.9" x2="600.2" y2="351.9" stroke="#7098cb" stroke-width="1.5" stroke-linecap="butt"/>
<text transform="translate(604.3 334.5)" font-size="13.5" font-weight="bold" fill="#000">CuO NWAs</text>
<text transform="translate(604.3 356.4)" font-size="13.5" font-weight="bold" fill="#000">Cu/Cu<tspan font-size="8" dy="4.5">2</tspan><tspan dy="-4.5">O NWAs</tspan></text>
<polyline points="436.7,515.66 437.7,515.25 438.7,514.93 439.7,514.97 440.7,514.61 441.7,515.33 442.7,515.06 443.7,515.53 444.7,514.95 445.7,514.82 446.7,515.37 447.7,515.25 448.7,515.63 449.7,515.53 450.7,514.9 451.7,515.12 452.7,515.18 453.7,514.18 454.7,514.82 455.7,514.62 456.7,514.37 457.7,513.42 458.7,512.66 459.7,511.44 460.7,510.45 461.7,508.56 462.7,507.92 463.7,507.08 464.7,506.94 465.7,506.76 466.7,505.46 467.7,504.64 468.7,504.15 469.7,503.66 470.7,502.56 471.7,501.24 472.7,500.7 473.7,501.64 474.7,502.71 475.7,503.95 476.7,504.94 477.7,506.39 478.7,507.12 479.7,507.53 480.7,509.03 481.7,509.81 482.7,510.19 483.7,510.54 484.7,510.8 485.7,511.63 486.7,512.99 487.7,513.25 488.7,513.42 489.7,514.32 490.7,514.99 491.7,515.61 492.7,516.16 493.7,516.89 494.7,516.8 495.7,517.31 496.7,516.91 497.7,517.2 498.7,517.23 499.7,517.19 500.7,517.42 501.7,517.2 502.7,517.43 503.7,517.48 504.7,517.23 505.7,516.94 506.7,516.81 507.7,516.86 508.7,516.98 509.7,517.07 510.7,517.68 511.7,516.9 512.7,516.3 513.7,515.43 514.7,514.91 515.7,514.65 516.7,514.45 517.7,513.75 518.7,514.02 519.7,513.25 520.7,513.12 521.7,511.88 522.7,511.83 523.7,511.68 524.7,511.01 525.7,510.45 526.7,509.72 527.7,508.98 528.7,507.67 529.7,507.14 530.7,506.1 531.7,506.14 532.7,505.82 533.7,505.16 534.7,504.44 535.7,503.96 536.7,504.23 537.7,503.97 538.7,502.94 539.7,502.68 540.7,502.43 541.7,502.5 542.7,503.37 543.7,503.88 544.7,504.4 545.7,505.13 546.7,506.53 547.7,506.81 548.7,507.87 549.7,509.25 550.7,510.41 551.7,511.91 552.7,513.57 553.7,514.09 554.7,515.53 555.7,516.89 556.7,518.37 557.7,519.21 558.7,519.72 559.7,519.75 560.7,520.76 561.7,521.18 562.7,521.32 563.7,520.8 564.7,521.36 565.7,521.67 566.7,521.58 567.7,521.78 568.7,522.43 569.7,522.67 570.7,522.6 571.7,522.82 572.7,522.66 573.7,522.86 574.7,523.04 575.7,523.31 576.7,523.33 577.7,523.43 578.7,523.62 579.7,523.65 580.7,524.65 581.7,524.63 582.7,524.61 583.7,525.35 584.7,525.46 585.7,524.67 586.7,525.22 587.7,525.69 588.7,526.21 589.7,526.34 590.7,526.11 591.7,525.39 592.7,525.2 593.7,525.49 594.7,525.6 595.7,525.09 596.7,525.04 597.7,525.02 598.7,525.08 599.7,525.13 600.7,524.7 601.7,524 602.7,524.29 603.7,524.3 604.7,523.47 605.7,522.7 606.7,521.64 607.7,520.64 608.7,519.61 609.7,518.22 610.7,516.55 611.7,514.88 612.7,512.42 613.7,512.12 614.7,511.92 615.7,511.32 616.7,510.8 617.7,510.38 618.7,510.18 619.7,510.25 620.7,510.41 621.7,510.92 622.7,511.23 623.7,511.68 624.7,511.2 625.7,512.48 626.7,513.17 627.7,512.35 628.7,512.09 629.7,511.88 630.7,511.57 631.7,511.17 632.7,510.92 633.7,510.49 634.7,510.49 635.7,510.31 636.7,510.16 637.7,509.75 638.7,509.85 639.7,509.9 640.7,510.03 641.7,509.54 642.7,510.78 643.7,512.08 644.7,512.99 645.7,514.1 646.7,515.59 647.7,517.29 648.7,519.24 649.7,520.74 650.7,521.13 651.7,521.63 652.7,522.71 653.7,523.59 654.7,524.07 655.7,524.82 656.7,525.64 657.7,525.67 658.7,524.92 659.7,524.5 660.7,524.71 661.7,524.08 662.7,524.03 663.7,523.97 664.7,523.58 665.7,522.88 666.7,522.63 667.7,522.21 668.7,521.95 669.7,521.23 670.7,521.25 671.7,520.19 672.7,519.91 673.7,519.68 674.7,519.08 675.7,517.81 676.7,517.09 677.7,515.97 678.7,515.34 679.7,514.87 680.7,513.02 681.7,511.55 682.7,509.74 683.7,508.67 684.7,507.45 685.7,505.63 686.7,503.47 687.7,502 688.7,500.56 689.7,498.81 690.7,496.9 691.7,494.29 692.7,492.58 693.7,491.56 694.7,489.2 695.7,487.86 696.7,487.38 697.7,488.13 698.7,489.12 699.7,489.72 700.7,491.19 701.7,493.7 702.7,496.07 703.7,498.49 704.7,501.3 705.7,503.69 706.7,506.27 707.7,509.55 708.7,512.88 709.7,516.82 710.7,520.03 711.7,521.26 712.7,522.62 713.7,523.95 714.7,525.98 715.7,527.32 716.7,528.31 717.7,529.82 718.7,530.68 719.7,530.76 720.7,531.32 721.7,530.94 722.7,531.34 723.7,531.54 724.7,531.24 725.7,531.6 726.7,531.82 727.7,532.11 728.7,531.98 729.7,532.19 730.7,531.76 731.7,531.81 732.7,532.51 733.7,532.87 734.7,532.66 735.7,532.45 736.7,532.98 737.7,532.28 738.7,532.42 739.7,533.07 740.7,533.3 741.7,532.88 742.7,533.2" fill="none" stroke="#d96c70" stroke-width="1.7" stroke-linejoin="round" stroke-linecap="round"/>
<polyline points="436.7,470.63 437.3,471.26 437.9,471.04 438.5,470.41 439.1,470.4 439.7,470.58 440.3,469.44 440.9,470 441.5,470.1 442.1,469.03 442.7,469.41 443.3,468.97 443.9,469.6 444.5,469.71 445.1,470.21 445.7,469.56 446.3,469.47 446.9,469.87 447.5,469.5 448.1,469.32 448.7,469.44 449.3,469.58 449.9,469.33 450.5,469.72 451.1,469.92 451.7,469.81 452.3,470.27 452.9,469.86 453.5,470.16 454.1,469.95 454.7,470.33 455.3,469.84 455.9,470.38 456.5,470.67 457.1,470.72 457.7,470.83 458.3,471.08 458.9,471.1 459.5,470.33 460.1,470.37 460.7,470.27 461.3,470.3 461.9,470.3 462.5,470.69 463.1,471.23 463.7,471.18 464.3,471.16 464.9,471.86 465.5,472.1 466.1,472.21 466.7,472.44 467.3,472.19 467.9,472.26 468.5,472.82 469.1,472.61 469.7,472.72 470.3,473.03 470.9,473.19 471.5,473.11 472.1,473.53 472.7,473.43 473.3,473.69 473.9,474 474.5,474.03 475.1,474.12 475.7,473.67 476.3,473.54 476.9,473.84 477.5,474.35 478.1,474.89 478.7,474.29 479.3,474.58 479.9,474.5 480.5,474.48 481.1,474.61 481.7,474.92 482.3,474.85 482.9,475.06 483.5,474.49 484.1,474.8 484.7,474.98 485.3,474.7 485.9,474.71 486.5,474.41 487.1,474.12 487.7,474.24 488.3,474.22 488.9,475.23 489.5,474.56 490.1,474.82 490.7,474.58 491.3,474.44 491.9,474.55 492.5,474.12 493.1,474.44 493.7,474.43 494.3,473.78 494.9,474.19 495.5,474.37 496.1,474.31 496.7,474.64 497.3,474.23 497.9,474.36 498.5,474.59 499.1,474.18 499.7,474.7 500.3,474.19 500.9,474.02 501.5,474.64 502.1,474.41 502.7,474.6 503.3,474.3 503.9,474.72 504.5,474.6 505.1,474.98 505.7,474.64 506.3,475.1 506.9,475.15 507.5,475.24 508.1,475.3 508.7,475.41 509.3,475.05 509.9,474.59 510.5,475.06 511.1,474.86 511.7,474.73 512.3,474.86 512.9,474.05 513.5,473.99 514.1,473.98 514.7,473.69 515.3,473.88 515.9,473.7 516.5,473.27 517.1,473.1 517.7,473.59 518.3,473.31 518.9,473.5 519.5,473.56 520.1,472.82 520.7,472.79 521.3,473.17 521.9,473.36 522.5,473.5 523.1,473.52 523.7,473.57 524.3,473.14 524.9,473.01 525.5,473.3 526.1,473.01 526.7,473.3 527.3,472.64 527.9,472.88 528.5,472.68 529.1,471.88 529.7,472.39 530.3,472.32 530.9,471.98 531.5,471.44 532.1,471.32 532.7,471.8 533.3,471.12 533.9,469.9 534.5,470.08 535.1,469.89 535.7,469.81 536.3,469.49 536.9,468.95 537.5,468.55 538.1,468.66 538.7,467.12 539.3,466.89 539.9,465.51 540.5,464.09 541.1,463.61 541.7,462.75 542.3,460.6 542.9,458.68 543.5,455.8 544.1,453.52 544.7,451.94 545.3,448.89 545.9,445.57 546.5,443.15 547.1,440.61 547.7,437.52 548.3,434.33 548.9,432.33 549.5,430.46 550.1,428.6 550.7,427.89 551.3,426.3 551.9,426.72 552.5,427.9 553.1,430.18 553.7,432.31 554.3,435.41 554.9,437.01 555.5,440.19 556.1,442.67 556.7,445.4 557.3,448.14 557.9,450.14 558.5,452.76 559.1,455.4 559.7,457.96 560.3,459.96 560.9,462.2 561.5,463.71 562.1,466.62 562.7,467.94 563.3,469.32 563.9,470.4 564.5,471.43 565.1,471.68 565.7,472.55 566.3,473.01 566.9,473.13 567.5,473.69 568.1,473.65 568.7,474.12 569.3,474.56 569.9,474.76 570.5,475.51 571.1,476.03 571.7,476.92 572.3,475.82 572.9,476.31 573.5,476.69 574.1,476.98 574.7,477.48 575.3,477.75 575.9,477.81 576.5,477.8 577.1,478.22 577.7,478.46 578.3,477.96 578.9,478.39 579.5,478.4 580.1,478.52 580.7,479.12 581.3,479.14 581.9,479.06 582.5,478.68 583.1,478.69 583.7,478.45 584.3,478.68 584.9,478.81 585.5,479.08 586.1,478.95 586.7,478.19 587.3,477.98 587.9,477.79 588.5,478.02 589.1,478.56 589.7,478.27 590.3,477.19 590.9,477.13 591.5,477.18 592.1,477.68 592.7,477.67 593.3,477.67 593.9,478.1 594.5,477.43 595.1,477.11 595.7,477.92 596.3,477.68 596.9,477.14 597.5,476.62 598.1,476.73 598.7,476.59 599.3,477.33 599.9,477.67 600.5,478.03 601.1,477.87 601.7,477.67 602.3,477.68 602.9,478.55 603.5,477.81 604.1,478.09 604.7,478.33 605.3,478.58 605.9,478.42 606.5,478.67 607.1,478.94 607.7,478.77 608.3,478.65 608.9,478.79 609.5,478.66 610.1,478.94 610.7,479.14 611.3,479.43 611.9,479.97 612.5,480.23 613.1,479.85 613.7,480.13 614.3,480.3 614.9,480.55 615.5,480.53 616.1,480.67 616.7,480.63 617.3,480.61 617.9,481.22 618.5,481.67 619.1,481.67 619.7,481.69 620.3,481.76 620.9,481.68 621.5,481.35 622.1,482.1 622.7,482.36 623.3,482.24 623.9,482.18 624.5,482.96 625.1,482.42 625.7,483.32 626.3,483.51 626.9,484.06 627.5,483.46 628.1,483.49 628.7,483.57 629.3,483.87 629.9,483.89 630.5,483.74 631.1,484.28 631.7,483.96 632.3,483.9 632.9,484.3 633.5,484.13 634.1,484.09 634.7,484.39 635.3,484.31 635.9,484.01 636.5,484.31 637.1,484.45 637.7,485.06 638.3,484.47 638.9,484.85 639.5,484.58 640.1,484.58 640.7,484.68 641.3,484.91 641.9,485.2 642.5,485.58 643.1,485 643.7,485.39 644.3,485.55 644.9,485.51 645.5,485.06 646.1,485.44 646.7,485.37 647.3,485.45 647.9,485.36 648.5,485.62 649.1,485.9 649.7,486 650.3,485.65 650.9,485.92 651.5,486.23 652.1,485.55 652.7,486 653.3,485.39 653.9,485.64 654.5,485.83 655.1,486.08 655.7,485.79 656.3,485.41 656.9,485.21 657.5,485.02 658.1,485.56 658.7,485.45 659.3,485.18 659.9,485.48 660.5,485.2 661.1,485.14 661.7,485.14 662.3,485.75 662.9,485.9 663.5,485.37 664.1,484.75 664.7,485.13 665.3,485.25 665.9,485.28 666.5,485.36 667.1,485.09 667.7,485.35 668.3,485.43 668.9,485.21 669.5,484.94 670.1,484.83 670.7,485.15 671.3,484.72 671.9,484.79 672.5,484.69 673.1,484.41 673.7,484.92 674.3,484.92 674.9,484.85 675.5,485.08 676.1,484.44 676.7,484.6 677.3,484.83 677.9,485.01 678.5,484.47 679.1,484.71 679.7,484.61 680.3,484.76 680.9,484.67 681.5,484.33 682.1,484.61 682.7,483.99 683.3,483.5 683.9,483.34 684.5,483.03 685.1,483.1 685.7,482.5 686.3,482.64 686.9,482.7 687.5,482.65 688.1,482.03 688.7,482.14 689.3,481.43 689.9,481.1 690.5,480.35 691.1,480.18 691.7,479.75 692.3,479.88 692.9,479.3 693.5,478.18 694.1,477.9 694.7,477.2 695.3,476.13 695.9,475.28 696.5,471.41 697.1,467.51 697.7,463.33 698.3,457.82 698.9,450.44 699.5,442.68 700.1,434.22 700.7,425.93 701.3,418.06 701.9,410.46 702.5,402.43 703.1,394.12 703.7,385.9 704.3,377.21 704.9,368.75 705.5,359.93 706.1,355.63 706.7,352.07 707.3,348.53 707.9,349.35 708.5,353.36 709.1,357.65 709.7,362.81 710.3,371.1 710.9,380.36 711.5,388.78 712.1,396.92 712.7,403.95 713.3,412.09 713.9,418.98 714.5,426.57 715.1,434.64 715.7,442.4 716.3,448.6 716.9,455.24 717.5,462.32 718.1,468.07 718.7,472.3 719.3,476.23 719.9,477.93 720.5,480.11 721.1,482.28 721.7,484.17 722.3,485.62 722.9,486.81 723.5,487.2 724.1,488.06 724.7,488.8 725.3,490.06 725.9,490.26 726.5,490.63 727.1,490.89 727.7,491.09 728.3,491.83 728.9,491.73 729.5,492.25 730.1,492.49 730.7,492.84 731.3,492.64 731.9,492.92 732.5,493.1 733.1,492.8 733.7,493.03 734.3,493.12 734.9,493.22 735.5,493.73 736.1,493.4 736.7,493.03 737.3,493.03 737.9,493.49 738.5,493.57 739.1,493.74 739.7,493.97 740.3,494.37 740.9,494.07 741.5,493.97 742.1,493.63 742.7,493.89 743.2,493.8" fill="none" stroke="#7098cb" stroke-width="1.7" stroke-linejoin="round" stroke-linecap="round"/>
<text transform="translate(7.5 607.1)" font-size="20" font-weight="normal" style="stroke-width:0.7px" fill="#000">d</text>
<rect x="69" y="610.8" width="306.7" height="228.2" fill="none" stroke="#000" stroke-width="1.8"/>
<line x1="69" y1="839" x2="69" y2="844" stroke="#000" stroke-width="1.6" stroke-linecap="butt"/>
<line x1="107.33" y1="839" x2="107.33" y2="841.8" stroke="#000" stroke-width="1.6" stroke-linecap="butt"/>
<line x1="145.65" y1="839" x2="145.65" y2="844" stroke="#000" stroke-width="1.6" stroke-linecap="butt"/>
<line x1="183.97" y1="839" x2="183.97" y2="841.8" stroke="#000" stroke-width="1.6" stroke-linecap="butt"/>
<line x1="222.3" y1="839" x2="222.3" y2="844" stroke="#000" stroke-width="1.6" stroke-linecap="butt"/>
<line x1="260.62" y1="839" x2="260.62" y2="841.8" stroke="#000" stroke-width="1.6" stroke-linecap="butt"/>
<line x1="298.95" y1="839" x2="298.95" y2="844" stroke="#000" stroke-width="1.6" stroke-linecap="butt"/>
<line x1="337.27" y1="839" x2="337.27" y2="841.8" stroke="#000" stroke-width="1.6" stroke-linecap="butt"/>
<line x1="375.6" y1="839" x2="375.6" y2="844" stroke="#000" stroke-width="1.6" stroke-linecap="butt"/>
<text transform="translate(69 860.8) scale(1.0000 0.9700)" font-size="17" font-weight="bold" text-anchor="middle" fill="#000">560</text>
<text transform="translate(145.65 860.8) scale(1.0000 0.9700)" font-size="17" font-weight="bold" text-anchor="middle" fill="#000">565</text>
<text transform="translate(222.3 860.8) scale(1.0000 0.9700)" font-size="17" font-weight="bold" text-anchor="middle" fill="#000">570</text>
<text transform="translate(298.95 860.8) scale(1.0000 0.9700)" font-size="17" font-weight="bold" text-anchor="middle" fill="#000">575</text>
<text transform="translate(375.6 860.8) scale(1.0000 0.9700)" font-size="17" font-weight="bold" text-anchor="middle" fill="#000">580</text>
<text transform="translate(139.7 883.3) scale(1.0000 0.9700)" font-size="16.6" font-weight="bold" letter-spacing="0.46" fill="#000">Binding energy / eV</text>
<text transform="translate(49.6 724.9) rotate(-90) scale(1.0550 1.0000)" font-size="16.7" font-weight="bold" text-anchor="middle" fill="#000">Intensity / a.u.</text>
<text transform="translate(73.5 631.9)" font-size="13.4" font-weight="bold" fill="#000">Cu LMM</text>
<line x1="242.8" y1="627.4" x2="267.1" y2="627.4" stroke="#d96c70" stroke-width="1.5" stroke-linecap="butt"/>
<line x1="242.8" y1="648.7" x2="267.1" y2="648.7" stroke="#7098cb" stroke-width="1.5" stroke-linecap="butt"/>
<text transform="translate(271.9 631.5)" font-size="13.5" font-weight="bold" fill="#000">CuO NWAs</text>
<text transform="translate(271.9 653.4)" font-size="13.5" font-weight="bold" fill="#000">Cu/Cu<tspan font-size="8" dy="4.5">2</tspan><tspan dy="-4.5">O NWAs</tspan></text>
<text transform="translate(165.6 676.1)" font-size="12.8" font-weight="bold" fill="#000">Cu<tspan font-size="7.5" dy="-6.5">0</tspan></text>
<text transform="translate(194.8 667.5)" font-size="12.8" font-weight="bold" fill="#000">Cu<tspan font-size="7.5" dy="-6.5">2+</tspan></text>
<text transform="translate(229.5 672.4)" font-size="12.8" font-weight="bold" fill="#000">Cu<tspan font-size="7.5" dy="-6.5">+</tspan></text>
<line x1="192.7" y1="672.6" x2="192.7" y2="727" stroke="#000" stroke-width="1.9" stroke-linecap="butt" stroke-dasharray="3.5 2.5"/>
<line x1="203.6" y1="672.6" x2="203.6" y2="727" stroke="#000" stroke-width="1.9" stroke-linecap="butt" stroke-dasharray="3.5 2.5"/>
<line x1="220.8" y1="672.6" x2="220.8" y2="727" stroke="#000" stroke-width="1.9" stroke-linecap="butt" stroke-dasharray="3.5 2.5"/>
<polyline points="69,824.53 70,824.18 71,822.93 72,822.88 73,822.83 74,822.26 75,821.18 76,820.81 77,820.67 78,820.25 79,819.91 80,819.77 81,820.18 82,819.76 83,820.21 84,820.07 85,820 86,819.6 87,819.61 88,819.96 89,819.52 90,820.17 91,819.61 92,819.33 93,819.63 94,819.75 95,819.64 96,819.18 97,818.91 98,818.7 99,818.4 100,817.68 101,818.14 102,818.06 103,817.76 104,817.35 105,817.28 106,817.07 107,816.82 108,816.88 109,816.09 110,815.97 111,815.32 112,814.88 113,814.88 114,813.92 115,813.43 116,812.9 117,812.73 118,811.89 119,811.06 120,811.03 121,810.58 122,810.27 123,810.35 124,809.75 125,809.45 126,809.37 127,809.23 128,808.77 129,808.81 130,808.98 131,808.2 132,808.27 133,807.25 134,807.51 135,806.94 136,806.41 137,805.84 138,805.24 139,804.56 140,804.22 141,804.21 142,803.82 143,802.95 144,802.29 145,801.73 146,801 147,800.97 148,800.25 149,799.32 150,798.42 151,797.53 152,797.35 153,796.71 154,795.54 155,795.16 156,794.11 157,793.6 158,792.48 159,791.6 160,790.99 161,790.17 162,789.43 163,788.15 164,787.7 165,786.97 166,785.81 167,785.14 168,784.21 169,783.58 170,782.68 171,782.25 172,781.72 173,780.84 174,779.34 175,777.78 176,775.98 177,774.42 178,772.9 179,771.52 180,769.56 181,768.52 182,766.1 183,763.66 184,761.39 185,758.82 186,756.81 187,754.08 188,751.84 189,749.4 190,746.47 191,744.01 192,741.73 193,738.85 194,736.24 195,733.55 196,731.08 197,728.46 198,725.96 199,724.27 200,722.76 201,720.82 202,719.05 203,717.53 204,715.96 205,717.29 206,719.35 207,720.65 208,722.54 209,723.85 210,726.37 211,727.94 212,730.16 213,732.5 214,733.98 215,736.37 216,737.96 217,739.46 218,741.89 219,744.01 220,745.71 221,746.99 222,749.39 223,751.56 224,753.54 225,755.57 226,757.24 227,759.16 228,761.41 229,763.13 230,764.23 231,765.31 232,766.81 233,768.32 234,769.56 235,769.75 236,770.57 237,771.35 238,771.83 239,772.06 240,772.06 241,772.35 242,772.2 243,772.7 244,772.57 245,772.78 246,773.15 247,772.41 248,771.97 249,771.39 250,771.42 251,771.18 252,770.76 253,770.68 254,770.07 255,770.3 256,770.45 257,770.33 258,770.5 259,770.77 260,770.28 261,769.92 262,769.91 263,770.06 264,770.18 265,769.83 266,770.1 267,769.72 268,769.95 269,769.96 270,769.88 271,770.3 272,770.02 273,770 274,770.32 275,770.62 276,770.28 277,770.64 278,770.69 279,771.09 280,771.54 281,771.45 282,771.46 283,771.67 284,771.1 285,771.89 286,772.31 287,772.35 288,772.34 289,772.37 290,772.63 291,773.17 292,773.13 293,773.52 294,772.86 295,773.19 296,774 297,774.75 298,775.08 299,775.94 300,777.23 301,777.54 302,778.15 303,778.9 304,779.77 305,780.61 306,781.03 307,780.73 308,781.68 309,781.81 310,781.98 311,782.85 312,782.95 313,782.86 314,783.24 315,783.61 316,783.86 317,784.34 318,785.02 319,785.32 320,785.2 321,786.39 322,786.16 323,786.44 324,786.85 325,787.35 326,787.49 327,787.92 328,788.71 329,788.7 330,788.58 331,789.15 332,789.17 333,789.23 334,789.45 335,789.58 336,789.5 337,789.77 338,789.67 339,789.36 340,789.85 341,789.78 342,790.11 343,789.85 344,790.04 345,790.13 346,789.47 347,789.59 348,789.86 349,790.59 350,790.09 351,790.57 352,790.93 353,790.89 354,790.96 355,790.78 356,790.88 357,791.06 358,791.21 359,791.38 360,791.27 361,791.16 362,791.23 363,791.58 364,791.43 365,791.62 366,792.12 367,792.42 368,792.74 369,792.46 370,793.08 371,793.56 372,794.08 373,793.77 374,794.21 375,794.8 375.7,794.9" fill="none" stroke="#d96c70" stroke-width="1.7" stroke-linejoin="round" stroke-linecap="round"/>
<polyline points="69,815.32 70,815.23 71,814.95 72,814.14 73,814.06 74,813.67 75,813.18 76,813.4 77,812.78 78,812.24 79,812.53 80,812.66 81,813.27 82,813.48 83,813.87 84,813.92 85,813.79 86,814.3 87,814.23 88,813.99 89,813.93 90,813.86 91,814.01 92,813.53 93,813.47 94,813.31 95,812.84 96,812.63 97,812.72 98,812.81 99,812.71 100,812.61 101,812.39 102,812.1 103,812.13 104,811.73 105,811.39 106,811.11 107,810.43 108,810.06 109,809.58 110,809.1 111,808.74 112,808.1 113,807.63 114,806.85 115,806.89 116,806.49 117,806.41 118,805.44 119,805.35 120,805.47 121,804.61 122,804.58 123,804.56 124,804.3 125,803.61 126,803.33 127,802.84 128,801.94 129,801.63 130,800.96 131,800.29 132,799.56 133,799.14 134,798.49 135,797.58 136,796.24 137,794.67 138,793.41 139,792.46 140,790.99 141,789.47 142,787.97 143,786.22 144,783.87 145,782.47 146,780.88 147,779.05 148,777.78 149,777.13 150,775.92 151,774.64 152,774.53 153,774.84 154,774.64 155,774.6 156,775.4 157,775.77 158,775.94 159,776.28 160,776.41 161,776.09 162,775.91 163,775.23 164,774.13 165,772.55 166,772.19 167,771.56 168,770.2 169,768.41 170,766.85 171,764.92 172,763.36 173,761.44 174,759.72 175,757.85 176,755.65 177,753.76 178,752.06 179,748.97 180,746.23 181,743.53 182,740.92 183,737.94 184,734.82 185,732.12 186,728.69 187,723.45 188,718.38 189,712.24 190,707.06 191,701.95 192,696.69 193,690.74 194,686.62 195,688.13 196,690.02 197,692.26 198,694.55 199,695 200,696.44 201,697.53 202,698.32 203,700 204,699.92 205,698.57 206,697.31 207,696.25 208,694.79 209,693.33 210,691.31 211,689.79 212,688.41 213,687.1 214,685.86 215,684.58 216,683.34 217,681.98 218,681.55 219,680.1 220,678.37 221,678.11 222,679.33 223,680.46 224,681.97 225,682.74 226,683.64 227,684.7 228,686.85 229,688.83 230,690.97 231,693.75 232,695.35 233,697.17 234,700.43 235,703.09 236,705.67 237,708.33 238,711.04 239,713.7 240,715.99 241,717.94 242,719.97 243,721.54 244,723.49 245,725.34 246,727.67 247,728.71 248,729.3 249,730.37 250,731.88 251,732.64 252,732.87 253,733.84 254,734.74 255,734.11 256,733.62 257,733.32 258,732.76 259,731.93 260,731.83 261,731.85 262,732.6 263,733.23 264,733.74 265,734.48 266,735.48 267,736.15 268,736.46 269,737.77 270,737.78 271,737.94 272,738.52 273,738.16 274,739.07 275,739.12 276,739.53 277,739.62 278,740.05 279,740.51 280,740.91 281,740.89 282,741.26 283,742.08 284,742.99 285,743.08 286,743.61 287,744.05 288,744.54 289,745.13 290,745.01 291,745.66 292,746.14 293,746.51 294,746.81 295,747.22 296,747.58 297,747.95 298,749.22 299,749.73 300,749.66 301,750.09 302,750.14 303,749.95 304,750.43 305,751.4 306,752.28 307,752.36 308,752.18 309,752.45 310,752.5 311,752.51 312,752.94 313,753.17 314,753.22 315,753.34 316,753.5 317,753.95 318,754.5 319,754.38 320,755.01 321,754.46 322,754.76 323,754.82 324,755.24 325,755.68 326,756.11 327,756.59 328,756.52 329,756.51 330,757 331,757.5 332,757.6 333,758.2 334,758.82 335,758.43 336,758.87 337,759.22 338,758.6 339,758.91 340,759.02 341,758.73 342,759.34 343,759.34 344,759.12 345,759.32 346,759.49 347,759.57 348,759.58 349,759.56 350,759.2 351,759.28 352,759.52 353,758.9 354,759.91 355,759.97 356,759.84 357,759.85 358,760.54 359,760.91 360,761 361,761.24 362,761.39 363,761.63 364,762.06 365,762.23 366,762.76 367,762.92 368,763.09 369,763.28 370,763.63 371,763.65 372,763.61 373,763.59 374,763.51 375,763.67 375.7,763.9" fill="none" stroke="#7098cb" stroke-width="1.7" stroke-linejoin="round" stroke-linecap="round"/>
<text transform="translate(390.2 607)" font-size="20" font-weight="normal" style="stroke-width:0.7px" fill="#000">e</text>
<polyline points="437.9,713.1 438.7,712.82 439.5,712.13 440.3,711.16 441.1,710.64 441.9,711.82 442.7,712.69 443.5,712.27 444.3,710.7 445.1,710.98 445.9,711.45 446.7,710.59 447.5,711.09 448.3,710.87 449.1,710.13 449.9,709.53 450.7,710.79 451.5,710.84 452.3,709.68 453.1,708.94 453.9,709.9 454.7,709.78 455.5,708.66 456.3,709.42 457.1,708.14 457.9,706.7 458.7,707.24 459.5,705.95 460.3,705.12 461.1,704.13 461.9,702.39 462.7,700.71 463.5,700.05 464.3,700.14 465.1,697.29 465.9,695.74 466.7,691.51 467.5,682.6" fill="none" stroke="#60acb8" stroke-width="3.4" stroke-linejoin="round" stroke-linecap="round"/>
<polyline points="470.6,677.9 470.7,640 470.7,614.5" fill="none" stroke="#60acb8" stroke-width="2.6" stroke-linejoin="round" stroke-linecap="round"/>
<polyline points="472,681.79 472.8,689.41 473.6,693.78 474.4,695.19 475.2,695.93 476,698.32 476.8,698.76 477.6,700.4 478.4,699.71 479.2,700.79 480,701.15 480.8,700.87 481.6,702 482.4,702.85 483.2,702.63 484,702.21 484.8,703.28 485.6,702.41 486.4,703.79 487.2,704.55 488,705.62 488.8,705.55 489.6,705.18 490.4,705.14 491.2,705.07 492,704.14 492.8,705.95 493.6,706.1 494.4,705.39 495.2,704.67 496,706.49 496.8,706.59 497.6,705.21 498.4,706.25 499.2,707.73 500,706.77 500.8,706.68 501.6,706.29 502.4,706.02 503.2,707.31 504,709.3 504.8,707.75 505.6,706.91 506.4,707.61 507.2,707.14 508,707.71 508.8,708.15 509.6,706.92 510.4,706.48 511.2,707.25 512,708.21 512.8,708.09 513.6,708.7 514.4,707.08 515.2,707.83 516,707.54 516.8,707.83 517.6,708.23 518.4,707.39 519.2,707.65 520,707.21 520.8,708.06 521.6,707.66 522.4,707.69 523.2,708.34 524,707.93 524.8,709.06 525.6,708.26 526.4,708.93 527.2,708.92 528,707.79 528.8,708.02 529.6,707.76 530.4,707.92 531.2,708.08 532,709.6 532.8,708.48 533.6,709.33 534.4,709 535.2,707.41 536,706.21 536.8,708.1 537.6,706.9 538.4,708.16 539.2,709.06 540,708.65 540.8,707.98 541.6,707.74 542.4,708.03 543.2,707.69 544,707.31 544.8,707.31 545.6,708.41 546.4,707.43 547.2,707.64 548,706.72 548.8,706.59 549.6,706.15 550.4,706.69 551.2,707.39 552,707.1 552.8,706.18 553.6,706.54 554.4,705.88 555.2,705.64 556,704.37 556.8,703.17 557.6,699.41 558.4,696.02 559.2,693.48 560,685.17 560.2,682.1" fill="none" stroke="#60acb8" stroke-width="3.4" stroke-linejoin="round" stroke-linecap="round"/>
<polyline points="561.6,677.6 561.8,666.3" fill="none" stroke="#60acb8" stroke-width="2.2" stroke-linejoin="round" stroke-linecap="round"/>
<polyline points="563.4,683.73 564.2,691.24 565,696.57 565.8,700.63 566.6,702.93 567.4,704.82 568.2,705.31 569,705.6 569.8,706.76 570.6,706.07 571.4,706.11 572.2,706.29 573,706.68 573.8,707.66 574.6,707.18 575.4,707.61 576.2,707.4 577,708.36 577.8,706.25 578.6,707.35 579.4,708.44 580.2,707.77 581,709.03 581.8,709.04 582.6,709.66 583.4,709.75 584.2,709.49 585,708.89 585.8,708.07 586.6,708.51 587.4,708.61 588.2,708.89 589,708.38 589.8,710.58 590.6,707.92 591.4,708.58 592.2,707.82 593,707.04 593.8,707.41 594.6,706.5 595.4,703.92 596.2,702.39 597,699.96 597.8,695.26 598.6,693.26 599.4,689.87 600.2,688.21 601,692.05 601.8,695.17 602.6,698.14 603.4,703.1 604.2,705.65 605,706.06 605.8,707.06 606.6,707.65 607.4,706.39 608.2,706.36 609,706.69 609.8,709.28 610.6,708.57 611.4,707.97 612.2,707.78 613,708.87 613.8,708.61 614.6,709.62 615.4,709.13 616.2,708.97 617,707.36 617.8,706.72 618.6,705.55 619.4,703.67 620.2,700.74 621,699.89 621.8,702.71 622.6,705.46 623.4,708.29 624.2,709.47 625,710.59 625.8,710.79 626.6,710.96 627.4,711.25 628.2,710.33 629,711.15 629.8,710.92 630.6,710.59 631.4,711.86 632.2,713.06 633,711.11 633.8,712.35 634.6,712.45 635.4,711.08 636.2,711.54 637,711.97 637.8,712.07 638.6,711.61 639.4,710.83 640.2,711.61 641,712.58 641.8,712.77 642.6,712.69 643.4,713.02 644.2,711.65 645,711.84 645.8,712.4 646.6,713.01 647.4,712.6 648.2,712.68 649,712.53 649.8,713.89 650.6,711.33 651.4,711.84 652.2,714.23 653,713.28 653.8,711.26 654.6,712.19 655.4,711.59 656.2,711.78 657,712.66 657.8,714 658.6,713.5 659.4,713.37 660.2,713.71 661,713.25 661.8,712.32 662.6,712.64 663.4,713.19 664.2,712.9 665,712.5 665.8,712.66 666.6,711.95 667.4,712.05 668.2,712.89 669,712.97 669.8,713.23 670.6,714.35 671.4,713.94 672.2,713.46 673,712.59 673.8,712.41 674.6,713.53 675.4,713.03 676.2,713.7 677,712.98 677.8,713.52 678.6,713.71 679.4,714.47 680.2,713.77 681,713.43 681.8,713.88 682.6,713.9 683.4,715.03 684.2,714.04 685,713.35 685.8,713.43 686.6,714.06 687.4,714.09 688.2,714.36 689,712.98 689.8,715.24 690.6,715.75 691.4,714.24 692.2,712.92 693,713.61 693.8,714.14 694.6,712.29 695.4,713.25 696.2,712.74 697,713.76 697.8,714.91 698.6,714.89 699.4,712.97 700.2,714.41 701,714.75 701.8,713.67 702.6,713.93 703.4,714.84 704.2,713.72 705,713.44 705.8,713.08 706.6,714.14 707.4,712.14 708.2,713.84 709,712.98 709.8,713.7 710.6,712.3 711.4,712.11 712.2,712.48 713,713.55 713.8,712.1 714.6,713.05 715.4,712.63 716.2,713.54 717,712.76 717.8,712.81 718.6,712.4 719.4,713.52 720.2,712.33 721,711.89 721.8,712.63 722.6,710.96 723.4,710.11 724.2,708.11 725,706.29 725.8,703.01 726.6,703.04 727.4,703.09 728.2,703.35 729,704.93 729.8,708.93 730.6,710.2 731.4,709.41 732.2,712.13 733,711.96 733.8,711.76 734.6,712.48 735.4,711.84 736.2,711.35 737,712.05 737.8,713.77 738.6,714.19 739.4,712.41 740.2,713.88 741,713.84 741.8,713.99 742.6,713.89 743.2,713.8" fill="none" stroke="#60acb8" stroke-width="3.4" stroke-linejoin="round" stroke-linecap="round"/>
<polyline points="437.6,815.76 438.4,815.27 439.2,815.12 440,815.21 440.8,815.36 441.6,815.79 442.4,815.22 443.2,816.05 444,815.57 444.8,815.29 445.6,815.79 446.4,815.86 447.2,815.53 448,815.14 448.8,815.07 449.6,814.85 450.4,815.82 451.2,816.17 452,816.47 452.8,815.94 453.6,815.42 454.4,815.28 455.2,815.14 456,814.43 456.8,814.22 457.6,814.73 458.4,813.21 459.2,812.53 460,811.94 460.8,811.86 461.6,811.46 462.4,809.81 463.2,808.55 464,806.97 464.8,805.06 465.6,801.98 466.4,799.27 467.2,794.79 468,790.43 468.8,783.01 469.6,770.4 470.4,754.25 471.2,731.07 472,731.37 472.8,760.54 473.6,784.44 474.4,796.82 475.2,803.54 476,806.22 476.8,810 477.6,811.83 478.4,812.33 479.2,813.2 480,813.57 480.8,812.58 481.6,813.75 482.4,813.77 483.2,814.64 484,814.52 484.8,814.55 485.6,814.38 486.4,814.89 487.2,815.64 488,815.26 488.8,814.68 489.6,816.16 490.4,816.69 491.2,816.31 492,815.78 492.8,815.46 493.6,815.31 494.4,816.2 495.2,816.88 496,816.17 496.8,816.37 497.6,816.5 498.4,816.51 499.2,816.85 500,817.61 500.8,816.82 501.6,817.07 502.4,817.41 503.2,816.95 504,816.87 504.8,816.47 505.6,817.28 506.4,817.04 507.2,816.82 508,817.12 508.8,816.91 509.6,816.75 510.4,817.06 511.2,817.89 512,817.53 512.8,817.63 513.6,817 514.4,816.59 515.2,818.02 516,817.43 516.8,816.28 517.6,816.26 518.4,816.16 519.2,814.64 520,813.93 520.8,815.32 521.6,815.86 522.4,817.05 523.2,817.88 524,818.23 524.8,818.07 525.6,818.06 526.4,817.84 527.2,817.92 528,818.11 528.8,817.89 529.6,818.26 530.4,819.01 531.2,817.98 532,817.85 532.8,818.12 533.6,818.07 534.4,817.66 535.2,817.41 536,817.68 536.8,817.08 537.6,816.33 538.4,815.89 539.2,816.8 540,817.59 540.8,817.7 541.6,818.36 542.4,819.53 543.2,818.2 544,818.64 544.8,818.33 545.6,818.04 546.4,818.48 547.2,818.97 548,818.92 548.8,818.41 549.6,818.17 550.4,818.51 551.2,818.88 552,818.66 552.8,818.32 553.6,819.52 554.4,818.99 555.2,818.94 556,818.91 556.8,818.87 557.6,819.14 558.4,819.13 559.2,819.47 560,818.93 560.8,818.58 561.6,819.88 562.4,819.58 563.2,819.64 564,819.93 564.8,819.76 565.6,819.49 566.4,818.81 567.2,818.6 568,819.6 568.8,819.85 569.6,819.78 570.4,818.92 571.2,818.45 572,818.81 572.8,818.92 573.6,819.44 574.4,819.18 575.2,820.04 576,819.55 576.8,819.29 577.6,819.87 578.4,819.87 579.2,819.33 580,819.85 580.8,820.52 581.6,819.46 582.4,819.43 583.2,819.25 584,818.82 584.8,819.71 585.6,820.1 586.4,820.23 587.2,820.07 588,819.07 588.8,819.52 589.6,819.55 590.4,819.28 591.2,819.26 592,820.01 592.8,819.86 593.6,820.61 594.4,820.35 595.2,819.24 596,820.02 596.8,820.55 597.6,820.14 598.4,819.51 599.2,820.51 600,819.73 600.8,819.73 601.6,819.13 602.4,819.07 603.2,818.93 604,819.89 604.8,820.25 605.6,819.58 606.4,818.94 607.2,819.25 608,819.54 608.8,818.8 609.6,818.62 610.4,819.02 611.2,819.42 612,819.22 612.8,819.23 613.6,818.55 614.4,817.78 615.2,818.64 616,818.48 616.8,818.57 617.6,818.52 618.4,818.76 619.2,818.32 620,818.96 620.8,818.19 621.6,817.67 622.4,817.88 623.2,818.77 624,819.3 624.8,818.39 625.6,818.55 626.4,819.69 627.2,819.51 628,819.37 628.8,819.36 629.6,818.93 630.4,818.78 631.2,818.81 632,819.54 632.8,819.49 633.6,819.95 634.4,819.66 635.2,820.05 636,819.7 636.8,818.87 637.6,819.81 638.4,819.68 639.2,819.84 640,819.59 640.8,819.26 641.6,819.4 642.4,818.98 643.2,818.79 644,818.92 644.8,819.12 645.6,818.86 646.4,819.25 647.2,819.6 648,820.35 648.8,820.53 649.6,819.78 650.4,819.91 651.2,819.62 652,819.72 652.8,819.66 653.6,819.42 654.4,819.61 655.2,819.1 656,819.66 656.8,819.65 657.6,819.25 658.4,819.45 659.2,819.92 660,819.58 660.8,819.88 661.6,820.1 662.4,820.51 663.2,819.63 664,819.66 664.8,820.06 665.6,820.55 666.4,820.22 667.2,820.26 668,819.47 668.8,819.53 669.6,820.55 670.4,820.11 671.2,820.82 672,820.04 672.8,819.84 673.6,819.4 674.4,820.11 675.2,820.29 676,820.95 676.8,820.48 677.6,820.07 678.4,819.58 679.2,819.96 680,820.56 680.8,820.64 681.6,820.81 682.4,820.75 683.2,820.35 684,820.5 684.8,820.43 685.6,819.79 686.4,820.79 687.2,820.7 688,819.96 688.8,820.35 689.6,820.52 690.4,820.8 691.2,821.09 692,819.39 692.8,820.2 693.6,821.1 694.4,820.26 695.2,819.57 696,820.31 696.8,820.64 697.6,820.66 698.4,820.1 699.2,820.17 700,820.53 700.8,820.85 701.6,821.51 702.4,820.97 703.2,820.37 704,819.56 704.8,820.69 705.6,820.7 706.4,820.56 707.2,820.22 708,820.8 708.8,820.05 709.6,820.46 710.4,820.74 711.2,820.83 712,821.27 712.8,820.86 713.6,820.76 714.4,821.1 715.2,820.26 716,820.44 716.8,820.77 717.6,821.18 718.4,820.62 719.2,821.03 720,821.1 720.8,820.31 721.6,820.06 722.4,820.1 723.2,820.74 724,821 724.8,821.22 725.6,821.35 726.4,820.83 727.2,821.29 728,821.43 728.8,821.27 729.6,821.24 730.4,820.55 731.2,820.97 732,820.66 732.8,820.42 733.6,820.74 734.4,821.07 735.2,821.07 736,820.95 736.8,820.66 737.6,821.05 738.4,820.86 739.2,820.47 740,820.99 740.8,821.75 741.6,821.22 742.4,820.71 743.2,821.6 743.2,821.2" fill="none" stroke="#e0604a" stroke-width="2.0" stroke-linejoin="round" stroke-linecap="round"/>
<rect x="437.3" y="611.4" width="306.1" height="229" fill="none" stroke="#000" stroke-width="1.8"/>
<line x1="437.3" y1="724.9" x2="743.4" y2="724.9" stroke="#000" stroke-width="1.8" stroke-linecap="butt"/>
<rect x="435.7" y="678.2" width="3.2" height="3.4" fill="#fff"/>
<line x1="431.8" y1="681.4" x2="442.8" y2="676.4" stroke="#000" stroke-width="1.4" stroke-linecap="butt"/>
<line x1="431.8" y1="685" x2="442.8" y2="680" stroke="#000" stroke-width="1.4" stroke-linecap="butt"/>
<rect x="741.8" y="678.2" width="3.2" height="3.4" fill="#fff"/>
<line x1="737.9" y1="681.4" x2="748.9" y2="676.4" stroke="#000" stroke-width="1.4" stroke-linecap="butt"/>
<line x1="737.9" y1="685" x2="748.9" y2="680" stroke="#000" stroke-width="1.4" stroke-linecap="butt"/>
<line x1="437.2" y1="840.4" x2="437.2" y2="845.4" stroke="#000" stroke-width="1.6" stroke-linecap="butt"/>
<line x1="458.68" y1="840.4" x2="458.68" y2="845.4" stroke="#000" stroke-width="1.6" stroke-linecap="butt"/>
<line x1="480.15" y1="840.4" x2="480.15" y2="843.2" stroke="#000" stroke-width="1.6" stroke-linecap="butt"/>
<line x1="501.63" y1="840.4" x2="501.63" y2="845.4" stroke="#000" stroke-width="1.6" stroke-linecap="butt"/>
<line x1="523.1" y1="840.4" x2="523.1" y2="843.2" stroke="#000" stroke-width="1.6" stroke-linecap="butt"/>
<line x1="544.58" y1="840.4" x2="544.58" y2="845.4" stroke="#000" stroke-width="1.6" stroke-linecap="butt"/>
<line x1="566.06" y1="840.4" x2="566.06" y2="843.2" stroke="#000" stroke-width="1.6" stroke-linecap="butt"/>
<line x1="587.53" y1="840.4" x2="587.53" y2="845.4" stroke="#000" stroke-width="1.6" stroke-linecap="butt"/>
<line x1="609.01" y1="840.4" x2="609.01" y2="843.2" stroke="#000" stroke-width="1.6" stroke-linecap="butt"/>
<line x1="630.48" y1="840.4" x2="630.48" y2="845.4" stroke="#000" stroke-width="1.6" stroke-linecap="butt"/>
<line x1="651.96" y1="840.4" x2="651.96" y2="843.2" stroke="#000" stroke-width="1.6" stroke-linecap="butt"/>
<line x1="673.44" y1="840.4" x2="673.44" y2="845.4" stroke="#000" stroke-width="1.6" stroke-linecap="butt"/>
<line x1="694.91" y1="840.4" x2="694.91" y2="843.2" stroke="#000" stroke-width="1.6" stroke-linecap="butt"/>
<line x1="716.39" y1="840.4" x2="716.39" y2="845.4" stroke="#000" stroke-width="1.6" stroke-linecap="butt"/>
<line x1="737.86" y1="840.4" x2="737.86" y2="843.2" stroke="#000" stroke-width="1.6" stroke-linecap="butt"/>
<text transform="translate(458.68 861.3) scale(1.0000 0.9700)" font-size="17" font-weight="bold" text-anchor="middle" fill="#000">24</text>
<text transform="translate(501.63 861.3) scale(1.0000 0.9700)" font-size="17" font-weight="bold" text-anchor="middle" fill="#000">32</text>
<text transform="translate(544.58 861.3) scale(1.0000 0.9700)" font-size="17" font-weight="bold" text-anchor="middle" fill="#000">40</text>
<text transform="translate(587.53 861.3) scale(1.0000 0.9700)" font-size="17" font-weight="bold" text-anchor="middle" fill="#000">48</text>
<text transform="translate(630.48 861.3) scale(1.0000 0.9700)" font-size="17" font-weight="bold" text-anchor="middle" fill="#000">56</text>
<text transform="translate(673.44 861.3) scale(1.0000 0.9700)" font-size="17" font-weight="bold" text-anchor="middle" fill="#000">64</text>
<text transform="translate(716.39 861.3) scale(1.0000 0.9700)" font-size="17" font-weight="bold" text-anchor="middle" fill="#000">72</text>
<text transform="translate(543.3 884) scale(1.0000 0.9700)" font-size="16.6" font-weight="bold" letter-spacing="0.5" fill="#000">2<tspan font-family="'Liberation Serif', serif" font-style="italic" font-weight="normal" font-size="17.5">θ</tspan> / degree</text>
<text transform="translate(412.2 726.15) rotate(-90) scale(1.0500 1.0000)" font-size="16.7" font-weight="bold" text-anchor="middle" fill="#000">Intensity / a.u.</text>
<line x1="562.7" y1="710.2" x2="562.7" y2="724.9" stroke="#9e2329" stroke-width="2.0" stroke-linecap="butt"/>
<line x1="600.6" y1="716.5" x2="600.6" y2="724.9" stroke="#9e2329" stroke-width="2.0" stroke-linecap="butt"/>
<line x1="728.1" y1="716.5" x2="728.1" y2="724.9" stroke="#9e2329" stroke-width="2.0" stroke-linecap="butt"/>
<line x1="488.6" y1="720.6" x2="488.6" y2="724.9" stroke="#1d1d8c" stroke-width="2.0" stroke-linecap="butt"/>
<line x1="524.9" y1="703.5" x2="524.9" y2="724.9" stroke="#1d1d8c" stroke-width="2.0" stroke-linecap="butt"/>
<line x1="557" y1="716.8" x2="557" y2="724.9" stroke="#1d1d8c" stroke-width="2.0" stroke-linecap="butt"/>
<line x1="611.9" y1="721" x2="611.9" y2="724.9" stroke="#1d1d8c" stroke-width="2.0" stroke-linecap="butt"/>
<line x1="659.5" y1="717.8" x2="659.5" y2="724.9" stroke="#1d1d8c" stroke-width="2.0" stroke-linecap="butt"/>
<line x1="704" y1="721" x2="704" y2="724.9" stroke="#1d1d8c" stroke-width="2.0" stroke-linecap="butt"/>
<line x1="725.4" y1="717.5" x2="725.4" y2="724.9" stroke="#1d1d8c" stroke-width="2.0" stroke-linecap="butt"/>
<line x1="537.3" y1="627" x2="563.8" y2="627" stroke="#9e2329" stroke-width="2.0" stroke-linecap="butt"/>
<line x1="537.3" y1="647.1" x2="563.8" y2="647.1" stroke="#1d1d8c" stroke-width="2.0" stroke-linecap="butt"/>
<text transform="translate(568.6 632.2)" font-size="13.5" font-weight="bold" fill="#000">Cu</text>
<text transform="translate(608.6 631.6)" font-size="13.4" font-weight="bold" fill="#000">JCPDS No. 04-0836</text>
<text transform="translate(568.6 653.3)" font-size="13.5" font-weight="bold" fill="#000">Cu<tspan font-size="8" dy="4.5">2</tspan><tspan dy="-4.5">O</tspan></text>
<text transform="translate(608.6 653.4)" font-size="13.4" font-weight="bold" fill="#000">JCPDS No. 05-0667</text>
<text transform="translate(634.6 684.9)" font-size="13.5" font-weight="bold" fill="#000">Cu/Cu<tspan font-size="8" dy="4.5">2</tspan><tspan dy="-4.5">O NWAs</tspan></text>
<path transform="translate(525.3 692.6) scale(0.4200 0.4100)" d="M0,10 C-4,6 -10,2 -10,-3.5 C-10,-8 -6.5,-10 -4.2,-10 C-2,-10 -0.6,-8.6 0,-7 C0.6,-8.6 2,-10 4.2,-10 C6.5,-10 10,-8 10,-3.5 C10,2 4,6 0,10 Z" fill="#000"/>
<path transform="translate(659.6 700.2) scale(0.4200 0.4100)" d="M0,10 C-4,6 -10,2 -10,-3.5 C-10,-8 -6.5,-10 -4.2,-10 C-2,-10 -0.6,-8.6 0,-7 C0.6,-8.6 2,-10 4.2,-10 C6.5,-10 10,-8 10,-3.5 C10,2 4,6 0,10 Z" fill="#000"/>
<polygon points="562,656.4 566,661.2 562,666 558,661.2" fill="#000"/>
<polygon points="600,675 604,679.8 600,684.6 596,679.8" fill="#000"/>
<polygon points="727.7,687.4 731.7,692.2 727.7,697 723.7,692.2" fill="#000"/>
<line x1="539.7" y1="745.9" x2="566" y2="745.9" stroke="#000" stroke-width="1.6" stroke-linecap="butt"/>
<text transform="translate(571.3 750.5)" font-size="13.5" font-weight="bold" fill="#000">CuO</text>
<text transform="translate(608 750.5)" font-size="13.4" font-weight="bold" fill="#000">JCPDS No. 45-0937</text>
<text transform="translate(650.6 806.2)" font-size="13.5" font-weight="bold" fill="#000">CuO NWAs</text>
<line x1="504.2" y1="828" x2="504.2" y2="840.4" stroke="#000" stroke-width="1.6" stroke-linecap="butt"/>
<line x1="520.4" y1="819" x2="520.4" y2="840.4" stroke="#000" stroke-width="1.6" stroke-linecap="butt"/>
<line x1="537.5" y1="823.9" x2="537.5" y2="840.4" stroke="#000" stroke-width="1.6" stroke-linecap="butt"/>
<line x1="539.1" y1="823.9" x2="539.1" y2="840.4" stroke="#000" stroke-width="1.6" stroke-linecap="butt"/>
<line x1="578" y1="828.4" x2="578" y2="840.4" stroke="#000" stroke-width="1.6" stroke-linecap="butt"/>
<line x1="591.5" y1="827.5" x2="591.5" y2="840.4" stroke="#000" stroke-width="1.6" stroke-linecap="butt"/>
<line x1="606.2" y1="829" x2="606.2" y2="840.4" stroke="#000" stroke-width="1.6" stroke-linecap="butt"/>
<line x1="617" y1="829" x2="617" y2="840.4" stroke="#000" stroke-width="1.6" stroke-linecap="butt"/>
<line x1="643.8" y1="829" x2="643.8" y2="840.4" stroke="#000" stroke-width="1.6" stroke-linecap="butt"/>
<line x1="660.2" y1="829" x2="660.2" y2="840.4" stroke="#000" stroke-width="1.6" stroke-linecap="butt"/>
<line x1="683.8" y1="829" x2="683.8" y2="840.4" stroke="#000" stroke-width="1.6" stroke-linecap="butt"/>
<line x1="685.4" y1="829" x2="685.4" y2="840.4" stroke="#000" stroke-width="1.6" stroke-linecap="butt"/>
<line x1="695.5" y1="829" x2="695.5" y2="840.4" stroke="#000" stroke-width="1.6" stroke-linecap="butt"/>
<line x1="719.1" y1="829" x2="719.1" y2="840.4" stroke="#000" stroke-width="1.6" stroke-linecap="butt"/>
<line x1="734" y1="829" x2="734" y2="840.4" stroke="#000" stroke-width="1.6" stroke-linecap="butt"/>
</svg>
</body></html>
